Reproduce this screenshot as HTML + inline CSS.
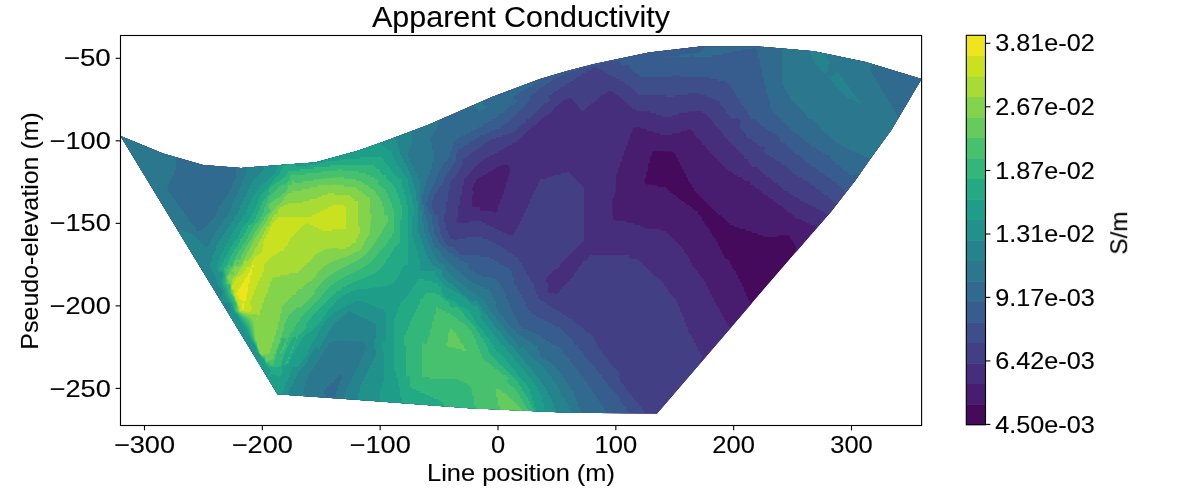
<!DOCTYPE html>
<html><head><meta charset="utf-8"><title>Apparent Conductivity</title>
<style>html,body{margin:0;padding:0;background:#fff;width:1200px;height:500px;overflow:hidden}
text{font-family:"Liberation Sans", sans-serif;fill:#000;stroke:#000;stroke-width:0.12px}</style></head>
<body><svg width="1200" height="500" viewBox="0 0 1200 500" style="display:block"><rect x="0" y="0" width="1200" height="500" fill="#fff"/>
<defs><clipPath id="hull"><polygon points="120.5,136.0 163.0,153.4 203.0,165.0 241.0,168.0 300.0,163.5 315.0,162.5 357.0,151.0 380.0,143.0 404.0,134.0 428.0,125.0 460.0,111.0 492.0,97.0 516.0,88.0 540.0,79.0 567.0,71.0 594.0,64.0 648.8,52.6 700.3,46.4 757.2,46.4 814.1,51.3 865.6,62.1 921.5,78.9 891.3,130.0 872.0,156.4 855.2,180.4 831.2,211.5 800.0,247.5 657.0,413.5 570.0,412.7 470.0,408.3 370.0,400.7 277.5,394.2"/></clipPath></defs>
<g clip-path="url(#hull)"><polygon fill="#460a5d" points="120.5,136.0 163.0,153.4 203.0,165.0 241.0,168.0 300.0,163.5 315.0,162.5 357.0,151.0 380.0,143.0 404.0,134.0 428.0,125.0 460.0,111.0 492.0,97.0 516.0,88.0 540.0,79.0 567.0,71.0 594.0,64.0 648.8,52.6 700.3,46.4 757.2,46.4 814.1,51.3 865.6,62.1 921.5,78.9 891.3,130.0 872.0,156.4 855.2,180.4 831.2,211.5 800.0,247.5 657.0,413.5 570.0,412.7 470.0,408.3 370.0,400.7 277.5,394.2"/>
<path fill-rule="evenodd" fill="#481d6f" d="M119.0 33.0L924.0 33.0L924.0 428.0L118.0 428.0L118.0 33.0L119.0 33.0ZM652.4 152.0L652.1 155.0L650.1 157.0L650.0 163.0L649.0 163.1L648.1 164.0L648.1 171.0L646.3 172.0L646.1 177.0L645.8 178.0L644.4 179.0L645.0 183.5L647.0 184.5L656.0 184.9L658.0 186.9L666.0 187.0L666.1 188.0L667.0 188.9L668.1 189.0L668.1 190.0L669.0 190.9L670.1 191.0L670.1 192.0L671.0 192.9L672.0 192.9L674.0 194.9L676.0 195.0L676.1 196.0L677.0 196.9L678.0 197.0L678.1 198.0L679.0 198.9L680.0 198.9L681.0 200.3L682.0 200.9L684.0 201.0L684.1 202.0L685.0 202.9L686.0 203.0L686.1 204.0L687.0 204.9L690.0 205.0L690.1 206.0L691.0 206.9L692.0 207.0L692.1 208.0L693.0 208.9L694.0 209.0L694.1 210.0L695.0 210.9L698.0 211.0L698.1 214.0L699.0 214.9L700.0 215.0L700.1 216.0L701.0 216.9L702.0 217.0L702.1 220.0L703.0 220.9L704.0 221.0L704.1 223.0L706.1 225.0L706.1 226.0L707.0 226.9L708.0 226.9L708.1 228.0L709.0 228.9L710.0 229.0L710.2 232.0L711.0 232.8L712.0 232.9L712.1 235.0L714.1 237.0L714.2 238.0L716.1 239.0L716.1 241.0L718.1 243.0L718.1 245.0L720.1 247.0L720.1 249.0L722.1 251.0L722.2 253.0L724.1 255.0L724.2 257.0L726.0 258.8L728.0 258.9L729.0 260.8L730.0 260.9L730.2 264.0L732.1 265.0L732.2 268.0L734.0 268.9L734.2 270.0L735.0 270.8L736.0 271.0L736.1 274.0L737.0 274.9L738.0 274.9L738.1 278.0L739.0 278.9L740.0 279.0L740.2 282.0L741.0 282.8L742.0 282.9L742.2 286.0L744.1 287.0L744.1 291.0L746.1 293.0L746.2 296.0L747.0 296.8L748.0 296.9L748.1 300.0L749.0 300.9L750.0 301.0L750.2 303.0L756.0 304.8L761.0 304.5L767.0 302.2L773.2 298.0L780.3 291.0L786.3 283.0L792.0 272.7L795.7 263.0L796.9 255.0L795.8 247.0L794.0 243.2L789.5 237.0L789.0 235.3L779.0 235.2L778.2 236.0L778.0 237.0L764.0 237.0L763.0 235.5L762.0 235.0L758.0 235.0L757.9 234.0L757.0 233.1L752.0 233.0L751.0 231.5L750.0 231.0L746.0 231.0L745.9 230.0L745.0 229.1L740.0 229.0L739.0 227.3L734.0 227.0L734.0 226.0L733.0 225.0L730.0 225.0L730.0 224.0L729.0 223.0L728.0 223.0L728.0 222.0L727.0 221.0L726.0 221.0L726.0 220.0L725.0 219.0L724.0 219.0L723.9 218.0L723.0 217.1L722.0 217.0L721.0 215.3L718.0 215.0L717.9 214.0L717.0 213.1L716.0 213.0L715.9 212.0L715.0 211.1L714.0 211.0L713.9 210.0L713.0 209.1L712.0 209.0L711.9 208.0L711.0 207.1L710.0 207.0L709.9 206.0L709.0 205.1L708.0 205.0L707.9 204.0L707.0 203.1L706.0 203.0L705.9 202.0L705.0 201.1L704.0 201.0L703.9 200.0L703.0 199.1L702.0 199.0L701.9 198.0L701.0 197.1L700.0 197.0L699.9 196.0L699.0 195.1L698.0 195.0L697.9 194.0L697.0 193.1L696.0 193.0L695.9 192.0L695.0 191.1L694.0 191.0L694.0 189.0L693.5 188.0L692.0 187.0L691.9 185.0L690.0 183.0L689.9 182.0L689.0 181.1L688.0 181.0L687.9 178.0L687.0 177.1L686.0 177.0L685.9 174.0L685.0 173.1L684.0 173.0L683.8 170.0L681.9 169.0L681.8 166.0L679.9 165.0L679.8 162.0L677.9 161.0L677.7 158.0L675.9 157.0L675.6 154.0L673.8 153.0L673.0 151.5L656.0 151.1L653.0 151.4L652.4 152.0Z"/>
<path fill-rule="evenodd" fill="#472e7c" d="M119.0 33.0L924.0 33.0L924.0 428.0L118.0 428.0L118.0 33.0L119.0 33.0ZM633.1 128.0L632.4 130.0L632.1 133.0L630.4 134.0L630.1 139.0L628.3 140.0L628.1 145.0L626.2 146.0L626.1 149.0L624.1 151.0L624.1 155.0L622.2 156.0L622.1 161.0L620.2 162.0L620.1 167.0L618.2 168.0L618.1 173.0L616.3 174.0L615.4 193.0L614.0 197.8L612.3 199.0L612.4 214.0L613.2 219.0L616.0 220.4L626.0 220.9L627.0 222.5L628.0 222.8L634.0 222.9L635.0 224.7L640.0 224.9L641.0 226.7L644.0 226.9L645.0 228.7L660.0 228.9L661.0 230.8L666.1 231.0L666.1 232.0L667.0 232.9L668.1 233.0L668.2 234.0L669.0 234.8L670.1 235.0L670.2 236.0L671.0 236.8L672.1 237.0L672.2 238.0L673.0 238.8L674.1 239.0L674.2 240.0L675.0 240.8L676.0 240.9L676.2 242.0L677.0 242.8L678.0 242.9L678.2 244.0L679.0 244.8L680.0 244.9L680.2 246.0L681.0 246.8L682.0 246.9L682.1 248.0L683.0 248.9L684.1 249.0L684.2 252.0L685.0 252.8L686.0 252.9L686.2 254.0L687.0 254.8L688.1 255.0L688.2 258.0L690.1 259.0L690.2 262.0L692.1 263.0L692.2 266.0L694.0 266.9L695.0 268.8L696.0 268.9L696.2 270.0L697.0 270.8L698.0 270.9L698.1 273.0L700.1 275.0L700.2 276.0L701.0 276.8L702.0 276.9L702.1 278.0L703.0 278.9L704.0 279.0L704.1 281.0L706.0 283.0L706.1 285.0L708.0 287.0L708.1 289.0L710.0 291.0L710.1 293.0L712.0 295.0L712.1 297.0L714.0 299.0L714.1 301.0L716.1 303.0L716.1 305.0L718.1 307.0L718.2 308.0L719.0 308.8L720.1 309.0L720.2 312.0L721.0 312.8L722.0 312.9L722.2 316.0L724.1 317.0L724.3 320.0L726.1 321.0L726.2 323.0L728.2 325.0L729.0 326.7L732.0 326.9L733.0 328.8L734.1 329.0L734.3 331.0L746.0 337.5L754.0 341.0L764.0 343.8L772.0 344.8L782.0 344.3L790.0 342.5L797.0 339.4L804.0 334.8L811.6 327.0L817.6 317.0L821.6 306.0L824.0 293.0L824.5 281.0L823.4 267.0L821.2 255.0L816.2 235.0L815.4 226.0L814.0 225.3L810.0 225.1L809.0 223.2L805.9 223.0L805.8 222.0L805.0 221.2L801.9 221.0L801.8 220.0L801.0 219.2L796.0 219.0L795.9 218.0L795.0 217.1L793.9 217.0L793.9 216.0L793.0 215.1L791.9 215.0L791.8 214.0L791.0 213.2L787.9 213.0L787.9 212.0L787.0 211.1L785.9 211.0L785.8 210.0L785.0 209.2L783.9 209.0L783.8 208.0L783.0 207.2L781.9 207.0L781.8 206.0L781.0 205.2L777.9 205.0L777.8 204.0L777.0 203.2L775.9 203.0L775.8 202.0L773.9 201.0L773.0 199.2L770.0 199.1L769.8 198.0L767.9 197.0L767.0 195.2L764.0 195.1L763.8 194.0L763.0 193.2L761.9 193.0L761.8 192.0L761.0 191.2L759.9 191.0L759.8 190.0L759.0 189.2L756.0 189.1L755.9 188.0L755.0 187.1L754.0 187.1L753.9 186.0L753.0 185.1L750.0 185.0L749.9 182.0L749.0 181.1L744.0 181.0L743.9 180.0L743.0 179.1L741.9 179.0L741.9 178.0L741.0 177.1L738.0 177.0L737.0 175.2L733.9 175.0L733.8 174.0L733.0 173.2L731.9 173.0L731.8 172.0L731.0 171.2L727.9 171.0L727.8 170.0L727.0 169.2L725.9 169.0L725.8 168.0L725.0 167.2L723.9 167.0L723.8 166.0L723.0 165.2L722.0 165.1L721.8 164.0L721.0 163.2L720.0 163.1L719.8 162.0L719.0 161.2L717.9 161.0L717.9 160.0L717.0 159.1L716.0 159.1L715.9 158.0L715.0 157.1L714.0 157.1L713.9 156.0L713.0 155.1L712.0 155.0L711.9 154.0L711.0 153.1L710.0 153.0L710.0 152.0L709.0 151.0L708.0 151.0L708.0 150.0L707.0 149.0L706.0 149.0L705.9 147.0L705.0 146.1L704.0 145.1L702.0 145.0L701.8 142.0L701.0 141.2L700.0 141.1L699.8 140.0L699.0 139.2L697.9 139.0L697.8 138.0L695.9 137.0L695.8 136.0L695.0 135.2L693.9 135.0L693.6 132.0L691.7 131.0L691.0 129.6L688.0 129.3L687.0 130.8L686.0 131.1L681.0 131.2L680.0 133.0L673.0 133.1L672.1 134.0L672.0 135.0L660.0 135.0L659.9 134.0L659.0 133.1L654.0 133.0L653.0 131.2L648.0 131.1L647.0 130.6L646.0 129.1L641.0 128.8L640.0 127.3L635.0 127.4L633.1 128.0ZM501.9 165.0L498.9 167.0L496.0 167.5L495.0 168.9L493.0 169.6L492.3 171.0L489.0 171.4L488.2 173.0L486.3 174.0L486.1 175.0L483.0 175.2L482.2 176.0L482.1 177.0L480.0 177.1L479.0 178.5L477.0 179.1L476.1 180.0L476.0 183.0L474.0 183.1L473.4 187.0L472.0 189.0L472.1 190.0L473.0 190.9L474.0 191.0L474.0 195.0L473.0 195.1L472.1 196.0L472.1 197.0L472.2 206.0L473.0 206.8L480.0 207.0L480.1 210.0L481.0 210.9L492.0 210.9L493.0 212.3L494.0 212.7L497.0 212.0L497.7 210.0L497.9 205.0L499.8 204.0L500.0 199.0L501.0 198.9L501.9 198.0L502.0 194.9L503.0 194.8L503.8 194.0L503.9 189.0L505.7 188.0L505.9 183.0L507.4 182.0L507.7 177.0L509.2 175.0L509.9 171.0L509.7 168.0L508.0 165.3L506.0 164.5L501.9 165.0Z"/>
<path fill-rule="evenodd" fill="#423f85" d="M119.0 33.0L924.0 33.0L924.0 296.2L912.0 294.4L902.0 291.1L892.0 286.0L880.0 277.5L868.0 266.3L857.0 254.0L846.0 240.1L828.0 215.1L826.0 215.0L825.9 214.0L825.0 213.1L824.0 213.0L823.9 212.0L823.0 211.1L820.0 211.0L819.9 210.0L819.0 209.1L816.0 209.0L815.9 208.0L815.0 207.1L812.0 207.0L811.9 206.0L811.0 205.1L808.0 205.0L807.9 204.0L807.0 203.1L804.0 203.0L803.9 202.0L803.0 201.1L800.0 201.0L799.9 200.0L799.0 199.1L798.0 199.0L797.9 198.0L797.0 197.1L794.0 197.0L793.9 196.0L793.0 195.1L790.0 195.0L789.9 194.0L789.0 193.1L788.0 193.0L787.9 192.0L787.0 191.1L784.0 191.0L783.9 190.0L783.0 189.1L782.0 189.0L781.9 188.0L781.0 187.1L780.0 187.0L779.9 186.0L779.0 185.1L778.0 185.0L777.9 184.0L777.0 183.1L774.0 183.0L773.9 182.0L773.0 181.1L772.0 181.0L771.9 180.0L771.0 179.1L770.0 179.0L769.9 178.0L769.0 177.1L766.0 177.0L766.0 176.0L765.0 175.0L764.0 175.0L764.0 174.0L763.0 173.0L762.0 173.0L762.0 172.0L761.0 171.0L760.0 171.0L760.0 170.0L759.0 169.0L758.0 169.0L757.9 168.0L757.0 167.1L752.0 167.0L752.0 166.0L751.0 165.0L750.0 165.0L749.9 164.0L749.0 163.1L748.0 163.0L747.9 160.0L747.0 159.1L744.0 159.0L743.9 156.0L743.0 155.1L742.0 155.1L741.9 154.0L741.0 153.1L739.9 153.0L739.9 152.0L739.0 151.1L737.9 151.0L737.9 150.0L737.0 149.1L735.9 149.0L735.9 148.0L735.0 147.1L733.9 147.0L733.9 146.0L733.0 145.1L731.9 145.0L731.9 144.0L731.0 143.1L730.0 143.1L729.9 142.0L729.0 141.1L728.0 141.1L727.9 140.0L727.0 139.1L726.0 139.1L725.9 138.0L725.0 137.1L724.0 137.1L723.9 135.0L721.9 133.0L721.9 132.0L721.0 131.1L720.0 131.1L719.9 130.0L719.0 129.1L718.0 129.1L717.9 128.0L717.0 127.1L716.0 127.1L715.9 126.0L715.0 125.1L714.0 125.1L713.9 123.0L711.9 121.0L711.9 120.0L711.0 119.1L709.9 119.0L709.9 118.0L709.0 117.1L707.9 117.0L707.8 116.0L707.0 115.2L705.9 115.0L705.8 114.0L705.0 113.2L702.0 113.1L701.0 111.2L689.0 111.2L688.0 113.0L679.0 113.1L678.1 114.0L678.0 115.0L673.0 115.1L672.1 116.0L672.0 117.0L662.0 117.0L661.9 116.0L661.0 115.1L656.0 115.0L655.9 114.0L655.0 113.1L650.0 113.0L649.9 112.0L649.0 111.1L636.0 111.0L635.9 110.0L635.0 109.1L631.9 109.0L631.9 108.0L631.0 107.1L629.9 107.0L629.8 106.0L629.0 105.2L627.9 105.0L627.0 103.2L625.9 103.0L625.0 101.3L623.8 101.0L623.0 99.3L621.0 98.7L618.0 95.3L615.7 95.0L615.4 94.0L613.5 93.0L613.0 92.0L610.0 90.6L607.0 92.0L606.5 93.0L604.6 94.0L604.0 95.2L601.0 95.5L600.3 97.0L598.4 98.0L598.2 99.0L596.3 100.0L596.1 101.0L594.2 102.0L594.1 103.0L591.0 103.2L590.1 105.0L589.0 105.2L588.2 106.0L588.1 107.0L587.0 107.2L586.2 108.0L586.1 109.0L585.0 109.1L584.1 110.0L584.0 111.0L581.9 111.0L581.6 110.0L579.8 109.0L579.0 107.4L577.7 107.0L577.5 105.0L573.2 101.0L572.0 98.9L570.0 98.0L564.0 100.0L555.0 107.8L552.4 111.0L550.7 112.0L550.3 113.0L548.6 114.0L548.3 115.0L545.0 115.7L544.4 117.0L542.6 118.0L542.3 119.0L540.5 120.0L540.3 121.0L538.4 122.0L538.2 123.0L536.4 124.0L536.2 125.0L533.0 125.4L532.2 127.0L530.3 128.0L530.2 129.0L528.3 130.0L528.1 131.0L526.2 132.0L526.1 133.0L524.2 134.0L524.1 135.0L522.2 136.0L522.1 137.0L521.0 137.2L520.2 138.0L520.1 139.0L519.0 139.1L518.1 140.0L518.1 141.0L517.0 141.1L516.1 142.0L516.1 143.0L513.0 143.1L512.1 144.0L512.0 145.0L509.0 145.1L508.1 146.0L508.0 147.0L506.0 147.0L504.0 149.0L502.0 149.0L500.0 151.0L499.0 151.1L498.1 152.0L498.0 153.0L495.0 153.1L494.1 154.0L494.0 155.0L491.0 155.1L490.1 156.0L490.0 157.0L487.0 157.1L486.1 158.0L486.0 159.0L484.0 159.0L474.0 168.3L466.0 177.7L464.0 179.0L464.0 185.0L463.0 185.1L462.1 186.0L462.0 195.0L461.0 195.1L460.1 196.0L460.0 205.0L459.0 205.1L458.1 206.0L458.1 217.0L456.7 218.0L456.5 221.0L457.0 222.0L459.0 222.7L466.0 222.9L469.0 222.8L470.0 221.0L482.0 221.0L482.1 222.0L483.0 222.9L486.0 223.0L486.1 224.0L487.0 224.9L490.0 225.0L490.1 226.0L491.0 226.9L494.0 227.0L494.1 228.0L495.0 228.9L498.0 229.0L499.0 230.8L502.0 230.9L503.0 232.7L506.0 232.9L507.0 234.5L511.1 235.0L512.0 235.9L513.6 234.0L513.7 233.0L515.6 232.0L515.9 229.0L517.8 228.0L517.9 225.0L519.0 224.9L519.9 224.0L520.0 221.0L521.0 220.9L521.9 220.0L522.0 217.0L523.0 217.0L524.0 216.0L524.0 213.0L525.0 212.9L525.9 212.0L526.0 209.0L527.5 208.0L528.0 205.0L529.9 203.0L530.0 199.0L531.0 198.8L531.8 198.0L532.0 195.0L533.8 194.0L533.9 191.0L535.8 190.0L535.9 187.0L537.8 186.0L537.9 183.0L539.6 182.0L540.0 179.0L546.0 178.9L548.0 176.9L553.0 176.6L554.0 174.9L560.0 174.8L562.0 172.9L567.0 172.6L568.1 171.0L568.2 172.0L570.1 173.0L570.3 174.0L572.0 174.9L573.0 176.7L574.0 176.9L575.0 178.7L576.1 179.0L576.2 180.0L578.0 180.9L578.2 182.0L579.0 182.8L580.0 182.9L580.2 184.0L581.0 184.8L582.0 184.9L582.1 186.0L583.0 186.9L584.0 187.0L584.0 241.0L583.0 241.1L582.1 242.0L582.0 243.0L581.0 243.1L580.1 244.0L580.0 245.0L579.0 245.1L578.1 246.0L578.0 247.0L577.0 247.1L576.1 248.0L576.0 249.0L575.0 249.1L574.1 250.0L574.0 251.0L573.0 251.1L572.1 252.0L572.0 253.0L571.0 253.1L570.1 254.0L570.0 255.0L569.0 255.1L568.1 256.0L568.0 257.0L567.0 257.1L566.1 258.0L566.0 259.0L565.0 259.1L564.1 260.0L564.0 261.0L563.0 261.1L562.1 262.0L562.0 263.0L561.0 263.1L560.1 264.0L560.0 267.0L559.0 267.1L558.1 268.0L558.0 269.0L555.0 269.1L554.1 270.0L554.0 271.0L553.0 271.1L552.1 272.0L552.0 273.0L551.0 273.1L550.1 274.0L550.0 275.0L549.0 275.1L548.1 276.0L548.0 277.0L547.0 277.1L546.1 278.0L546.1 282.0L547.0 282.9L548.0 283.0L548.0 286.0L549.0 287.0L550.0 287.0L548.0 287.1L547.7 291.0L550.0 293.3L551.9 293.0L552.0 291.0L552.1 292.0L553.0 292.9L554.2 293.0L554.4 294.0L556.0 294.8L557.0 293.3L559.0 292.8L559.8 292.0L560.0 289.0L561.0 288.9L561.9 288.0L562.0 287.0L563.0 286.9L563.9 286.0L564.0 285.0L565.0 284.9L565.9 284.0L566.0 283.0L567.0 282.9L567.9 282.0L568.0 281.0L569.0 280.9L569.9 280.0L570.0 279.0L571.0 278.9L571.9 278.0L572.0 276.9L573.0 276.9L573.9 276.0L574.0 273.0L575.0 272.9L575.9 272.0L576.0 271.0L577.0 270.9L577.9 270.0L578.0 267.0L579.0 266.9L579.9 266.0L580.0 265.0L581.0 264.9L581.9 264.0L582.0 261.0L583.0 260.9L583.9 260.0L584.0 259.0L585.0 260.7L586.0 260.8L587.8 259.0L588.0 257.0L589.0 256.9L589.9 256.0L590.0 255.0L630.0 255.0L628.5 257.0L629.0 258.0L631.0 258.8L638.1 259.0L638.1 260.0L639.0 260.9L640.1 261.0L640.2 262.0L641.0 262.8L642.1 263.0L642.2 264.0L643.0 264.8L644.1 265.0L644.2 266.0L645.0 266.8L646.1 267.0L646.2 268.0L648.1 269.0L648.2 270.0L650.1 271.0L650.2 272.0L651.0 272.8L652.0 272.9L655.0 276.4L658.0 276.9L658.2 278.0L659.0 278.8L660.1 279.0L660.2 280.0L661.0 280.8L662.0 280.9L662.2 282.0L663.0 282.8L664.0 282.9L664.2 286.0L665.0 286.8L666.0 286.9L666.2 288.0L667.0 288.8L668.1 289.0L668.6 292.0L670.0 292.9L671.0 294.8L672.0 294.9L672.2 296.0L673.0 296.8L674.0 296.9L674.2 298.0L675.0 298.8L676.1 299.0L676.2 302.0L677.0 302.8L678.0 302.9L678.2 306.0L680.1 307.0L680.1 311.0L680.6 312.0L682.1 313.0L682.2 316.0L684.0 317.0L684.1 321.0L684.5 322.0L686.0 323.0L686.1 326.0L687.0 326.9L688.0 327.0L688.0 332.0L689.0 333.0L690.0 333.0L690.0 334.0L691.0 335.0L692.0 335.0L692.0 338.0L693.0 339.0L694.0 339.0L694.0 342.0L695.0 343.0L696.0 343.0L696.1 346.0L697.0 346.9L698.0 347.0L698.1 350.0L699.0 350.9L700.0 350.9L700.1 354.0L701.0 354.9L702.1 355.0L702.0 358.2L700.2 361.0L699.8 363.0L700.0 371.0L701.7 379.0L709.8 409.0L711.5 419.0L712.3 428.0L118.0 428.0L118.0 33.0L119.0 33.0ZM703.0 359.0L704.0 359.0L703.0 359.0Z"/>
<path fill-rule="evenodd" fill="#3d4e8a" d="M119.0 33.0L924.0 33.0L924.0 239.2L914.0 238.5L904.0 236.7L894.0 234.0L884.0 230.4L866.0 221.8L852.0 213.5L836.0 203.0L834.0 203.0L833.9 202.0L833.0 201.1L832.0 201.0L831.9 200.0L831.0 199.1L830.0 199.0L829.9 198.0L829.0 197.1L827.9 197.0L827.9 196.0L827.0 195.1L824.0 195.0L823.9 194.0L823.0 193.1L822.0 193.0L821.9 192.0L821.0 191.1L819.9 191.0L819.9 190.0L819.0 189.1L816.0 189.0L815.9 188.0L815.0 187.1L813.9 187.0L813.9 186.0L813.0 185.1L810.0 185.0L809.9 184.0L809.0 183.1L807.9 183.0L807.9 182.0L807.0 181.1L804.0 181.0L803.9 180.0L803.0 179.1L802.0 179.0L801.9 178.0L801.0 177.1L798.0 177.0L797.9 176.0L797.0 175.1L794.0 175.0L794.0 174.0L793.0 173.0L792.0 173.0L792.0 172.0L791.0 171.0L790.0 171.0L790.0 170.0L789.0 169.0L788.0 169.0L787.9 168.0L787.0 167.1L786.0 167.0L785.9 166.0L785.0 165.1L782.0 165.0L781.9 164.0L781.0 163.1L780.0 163.0L779.9 162.0L779.0 161.1L776.0 161.0L775.9 160.0L775.0 159.1L774.0 159.0L773.9 158.0L773.0 157.1L770.0 157.0L769.9 156.0L769.0 155.1L766.0 155.0L765.9 154.0L765.0 153.1L764.0 153.0L763.9 152.0L763.0 151.1L760.0 151.0L763.0 150.5L765.0 149.5L765.5 149.0L765.0 148.0L762.0 145.8L761.1 147.0L760.0 147.1L759.9 146.0L759.0 145.1L757.9 145.0L757.9 144.0L757.0 143.1L754.0 143.0L753.9 142.0L753.0 141.1L752.0 141.0L751.9 140.0L751.0 139.1L748.0 139.0L747.9 138.0L747.0 137.1L746.0 137.0L745.9 134.0L745.0 133.1L744.0 133.0L743.9 132.0L743.0 131.1L742.0 131.0L741.9 130.0L741.0 129.1L740.0 129.0L739.9 128.0L739.0 127.1L738.0 127.0L740.0 126.6L740.5 121.0L739.9 120.0L738.0 118.3L732.0 119.0L731.9 118.0L731.0 117.1L730.0 117.0L729.9 116.0L729.0 115.1L728.0 115.0L727.9 114.0L727.0 113.1L726.0 113.0L725.9 110.0L725.0 109.1L724.0 109.1L723.9 108.0L723.0 107.1L722.0 107.0L721.9 106.0L721.0 105.1L720.0 105.0L719.8 102.0L719.0 101.2L716.0 101.0L715.9 100.0L715.0 99.1L712.0 99.0L710.0 97.1L706.0 97.0L705.9 96.0L705.0 95.1L700.0 95.0L699.9 94.0L699.0 93.1L689.0 93.1L688.1 94.0L688.0 95.0L676.0 95.1L674.0 97.0L666.0 97.0L665.9 96.0L665.0 95.1L664.0 95.1L638.0 95.0L637.9 94.0L637.0 93.1L636.0 93.0L635.9 92.0L635.0 91.1L634.0 91.0L633.9 90.0L633.0 89.1L632.0 89.0L628.0 85.0L626.0 85.0L625.9 84.0L625.0 83.1L624.0 83.0L623.9 82.0L623.0 81.1L620.0 81.0L619.9 80.0L619.0 79.1L616.0 79.0L615.9 78.0L615.0 77.1L612.0 77.0L611.9 76.0L611.0 75.1L607.9 75.0L607.9 74.0L607.0 73.1L605.0 72.5L604.0 71.1L601.9 71.0L601.0 69.2L598.0 69.1L597.0 67.5L594.0 67.2L593.0 67.5L592.2 69.0L591.0 69.2L590.0 71.1L587.0 71.2L586.0 73.1L583.0 73.2L582.2 74.0L582.1 75.0L581.0 75.1L580.1 76.0L580.0 77.0L577.0 77.1L576.1 78.0L576.1 79.0L575.0 79.1L574.1 80.0L574.0 81.0L571.0 81.1L570.1 82.0L570.0 83.0L567.0 83.1L566.1 84.0L566.0 85.0L565.0 85.1L564.1 86.0L564.0 87.0L561.0 87.1L560.1 88.0L560.0 89.0L559.0 89.1L558.1 90.0L558.0 91.0L555.0 91.1L554.1 92.0L554.0 93.0L553.0 93.1L552.1 94.0L552.0 95.0L549.0 95.3L548.3 96.0L548.3 98.0L550.0 98.9L550.0 101.0L549.0 101.0L548.0 102.0L548.0 103.0L545.0 103.0L544.0 104.0L544.0 105.0L543.0 105.0L542.0 106.0L542.0 107.0L541.0 107.0L540.0 108.0L540.0 109.0L539.0 109.0L538.0 110.0L538.0 111.0L537.0 111.0L536.0 112.0L536.0 113.0L535.0 113.0L534.0 114.0L534.0 115.0L533.0 115.0L532.0 116.0L532.0 117.0L531.0 117.0L530.0 118.0L530.0 119.0L527.0 119.1L526.1 120.0L526.0 123.0L523.0 123.0L522.0 124.0L522.0 125.0L521.0 125.0L520.0 126.0L520.0 127.0L519.0 127.0L518.0 128.0L518.0 129.0L517.0 129.0L516.0 130.0L516.0 131.0L515.0 131.0L514.0 132.0L514.0 133.0L509.0 133.1L508.1 134.0L508.0 135.0L503.0 135.1L502.1 136.0L502.0 137.0L497.0 137.1L496.1 138.0L496.0 139.0L491.0 139.1L490.1 140.0L490.0 141.0L488.0 141.0L487.0 142.4L485.0 143.1L484.1 144.0L484.0 145.0L483.0 145.1L482.1 146.0L482.0 147.0L480.0 147.0L478.0 149.0L477.0 149.1L476.1 150.0L476.0 151.0L474.0 151.0L472.0 153.0L471.0 153.1L470.1 154.0L470.0 155.0L469.0 155.1L468.1 156.0L468.0 157.0L466.0 157.1L465.0 158.4L462.1 160.0L462.8 163.0L460.4 169.0L455.0 177.0L454.0 178.1L452.1 179.0L452.0 181.0L451.0 181.1L450.1 182.0L450.0 191.0L449.0 191.1L448.1 192.0L448.0 201.0L447.0 201.1L446.1 202.0L446.0 213.0L444.0 215.0L444.1 222.0L445.0 222.9L446.0 223.0L446.1 230.0L447.0 230.9L448.0 231.0L448.1 234.0L449.0 234.9L450.1 235.0L450.2 238.0L451.0 238.8L454.2 239.0L454.4 240.0L456.0 240.8L457.0 240.6L458.0 239.0L465.0 238.9L465.9 238.0L466.0 237.0L479.0 236.9L479.9 236.0L480.0 235.0L480.1 236.0L481.0 236.9L482.0 237.0L482.1 238.0L483.0 238.9L488.0 239.0L488.1 240.0L489.0 240.9L492.0 241.0L492.1 242.0L493.0 242.9L496.0 243.0L496.1 244.0L497.0 244.9L500.0 245.0L500.1 246.0L501.0 246.9L502.0 247.0L504.0 249.0L506.0 249.0L506.1 250.0L507.0 250.9L508.1 251.0L508.1 252.0L509.0 252.9L512.0 253.0L512.1 254.0L513.0 254.9L514.1 255.0L514.1 256.0L515.0 256.9L518.0 257.0L518.2 260.0L519.0 260.8L520.0 260.9L520.1 262.0L521.0 262.9L522.1 263.0L522.2 266.0L524.1 267.0L524.2 270.0L526.1 271.0L526.2 274.0L527.0 274.8L528.0 274.9L528.1 276.0L529.0 276.9L530.0 276.9L530.1 280.0L531.0 280.9L532.0 280.9L532.1 282.0L533.0 282.9L534.0 283.0L534.1 288.0L535.0 288.9L536.0 289.0L536.1 294.0L537.0 294.9L538.0 295.0L538.1 298.0L539.0 298.9L540.0 299.0L540.1 300.0L541.0 300.9L544.0 301.0L544.1 302.0L545.0 302.9L546.0 303.0L546.1 304.0L547.0 304.9L550.0 305.0L550.1 306.0L551.0 306.9L552.0 307.0L554.0 308.9L556.1 309.0L556.1 310.0L557.0 310.9L560.1 311.0L560.1 312.0L561.0 312.9L562.1 313.0L562.2 314.0L563.0 314.8L566.1 315.0L566.2 316.0L567.0 316.8L568.1 317.0L569.0 318.8L572.1 319.0L572.2 320.0L574.1 321.0L575.0 322.7L577.0 323.4L578.0 324.8L580.1 325.0L580.3 326.0L582.2 327.0L582.3 328.0L584.2 329.0L584.3 330.0L586.2 331.0L587.0 332.6L590.0 332.9L590.3 334.0L592.1 335.0L593.0 336.7L594.0 336.9L594.4 340.0L596.1 341.0L596.4 344.0L598.1 345.0L598.5 348.0L600.0 348.7L601.0 350.6L602.1 351.0L602.5 354.0L604.0 354.7L605.0 356.6L606.0 356.8L607.0 358.6L608.1 359.0L608.5 362.0L610.0 362.7L611.0 364.6L612.0 364.8L613.0 366.6L614.0 366.8L615.0 368.6L616.0 368.8L617.0 370.7L618.0 370.8L619.0 372.7L620.1 373.0L620.0 375.5L619.0 376.0L618.5 377.0L619.0 378.0L620.0 378.5L620.5 382.0L622.0 382.7L623.0 384.6L624.0 384.8L625.0 386.7L626.0 386.8L626.4 390.0L628.0 390.8L629.0 392.7L630.0 392.8L631.0 394.7L632.0 394.9L632.2 397.0L633.7 398.0L634.3 400.0L636.0 400.8L637.0 402.7L638.0 402.8L639.0 404.7L640.0 404.9L641.0 406.7L642.0 406.9L642.2 409.0L643.6 410.0L644.3 412.0L647.0 413.7L649.0 416.0L651.4 421.0L652.9 428.0L118.0 428.0L118.0 33.0L119.0 33.0Z"/>
<path fill-rule="evenodd" fill="#365d8d" d="M119.0 33.0L924.0 33.0L924.0 203.5L906.0 202.8L890.0 201.2L872.0 198.0L848.0 192.1L847.0 192.2L846.0 193.0L845.9 192.0L845.0 191.1L844.0 191.0L843.9 190.0L843.0 189.1L842.0 189.0L841.9 188.0L841.0 187.1L840.0 187.0L839.9 186.0L839.0 185.1L838.0 185.0L837.9 184.0L837.0 183.1L835.9 183.0L835.9 182.0L835.0 181.1L832.0 181.0L831.9 180.0L831.0 179.1L830.0 179.0L829.9 178.0L829.0 177.1L826.0 177.0L825.9 176.0L825.0 175.1L824.0 175.0L823.9 174.0L823.0 173.1L820.0 173.0L819.9 172.0L819.0 171.1L818.0 171.0L817.9 170.0L817.0 169.1L816.0 169.0L815.9 168.0L815.0 167.1L812.0 167.0L811.9 166.0L811.0 165.1L810.0 165.0L809.9 164.0L809.0 163.1L806.0 163.0L805.9 162.0L805.0 161.1L804.0 161.0L803.9 160.0L803.0 159.1L802.0 159.0L801.9 158.0L801.0 157.1L800.0 157.0L799.9 156.0L799.0 155.1L796.0 155.0L795.9 154.0L795.0 153.1L794.0 153.0L793.9 152.0L793.0 151.1L792.0 151.0L791.9 150.0L791.0 149.1L790.0 149.0L789.9 148.0L789.0 147.1L788.0 147.0L787.9 146.0L787.0 145.1L786.0 145.0L785.9 144.0L785.0 143.1L782.0 143.0L781.9 142.0L781.0 141.1L780.0 141.0L779.9 138.0L779.0 137.1L778.0 137.0L777.9 136.0L777.0 135.1L776.0 135.0L774.0 133.0L772.0 133.0L771.9 132.0L771.0 131.1L768.0 131.0L767.9 130.0L767.0 129.1L766.0 129.0L765.9 128.0L765.0 127.1L762.0 127.0L761.9 126.0L761.0 125.1L760.0 125.0L759.9 124.0L759.0 123.1L758.0 123.0L757.9 122.0L757.0 121.1L756.0 121.0L755.9 120.0L755.0 119.1L750.0 119.0L749.9 116.0L749.0 115.1L748.0 115.0L747.9 112.0L747.0 111.1L746.0 111.0L745.9 110.0L745.0 109.1L744.0 109.0L743.9 106.0L743.0 105.1L742.0 105.0L741.9 104.0L741.0 103.1L740.0 103.0L739.9 100.0L739.0 99.1L738.0 99.1L737.9 98.0L737.0 97.1L736.0 97.0L735.9 94.0L735.0 93.1L734.0 93.1L733.9 91.0L731.9 89.0L731.9 88.0L731.0 87.1L729.9 87.0L729.9 85.0L728.0 83.1L725.9 83.0L725.8 82.0L725.0 81.2L718.0 81.0L717.9 80.0L717.0 79.1L710.0 79.0L708.0 77.1L680.0 77.0L679.9 76.0L679.0 75.1L678.0 75.1L673.0 75.1L672.1 76.0L672.0 77.0L640.0 77.0L639.9 76.0L639.0 75.1L638.0 75.0L637.9 74.0L637.0 73.1L634.0 73.0L633.9 72.0L633.0 71.1L632.0 71.0L632.0 70.0L631.0 69.0L630.0 69.0L630.1 67.0L629.0 65.6L628.0 65.1L622.0 65.0L621.9 64.0L621.0 63.1L619.9 63.0L618.0 61.1L610.0 61.0L609.0 61.3L608.0 63.0L601.0 63.0L600.0 64.0L600.0 65.0L591.0 65.0L590.0 66.0L590.0 67.0L583.0 67.0L582.0 68.0L582.0 69.0L577.0 69.0L576.0 70.0L576.0 71.0L571.0 71.0L570.0 72.0L570.0 73.0L565.0 73.0L564.0 74.0L564.0 75.0L561.0 75.0L560.0 76.0L560.0 77.0L557.0 77.1L556.1 78.0L556.0 79.0L553.0 79.1L552.1 80.0L552.0 81.0L551.0 81.0L550.0 82.0L550.0 83.0L547.0 83.1L546.1 84.0L546.0 85.0L545.0 85.1L544.1 86.0L544.0 87.0L541.0 87.1L540.1 88.0L540.0 89.0L539.0 89.1L538.1 90.0L538.0 91.0L537.0 91.0L536.0 92.0L536.0 93.0L533.0 93.1L532.1 94.0L532.0 95.0L531.0 95.1L530.1 96.0L530.0 101.0L529.0 101.0L528.0 102.0L528.0 103.0L527.0 103.0L526.0 104.0L526.0 105.0L525.0 105.0L524.0 106.0L524.0 107.0L523.0 107.0L522.0 108.0L522.0 109.0L521.0 109.0L520.0 110.0L520.0 111.0L519.0 111.0L518.0 112.0L518.0 113.0L517.0 113.0L516.0 114.0L516.0 115.0L515.0 115.0L514.0 116.0L514.0 117.0L513.0 117.0L512.0 118.0L512.0 119.0L511.0 119.0L510.0 120.0L510.0 121.0L509.0 121.0L508.0 122.0L508.0 123.0L506.0 123.0L504.0 125.0L503.0 125.0L502.0 126.0L502.0 127.0L501.0 127.0L500.0 128.0L500.0 129.0L496.0 129.0L494.0 131.0L491.0 131.0L490.0 132.0L490.0 133.0L487.0 133.0L486.0 134.0L486.0 135.0L481.0 135.1L480.1 136.0L480.0 137.0L478.0 137.0L476.0 139.0L475.0 139.0L474.0 140.0L474.0 141.0L471.0 141.1L470.1 142.0L470.0 143.0L469.0 143.0L468.0 144.0L468.0 145.0L465.0 145.1L464.1 146.0L464.0 147.0L463.0 147.1L462.1 148.0L462.0 149.0L459.0 149.1L458.1 150.0L458.0 153.0L457.0 153.1L456.1 154.0L456.0 161.0L444.0 179.0L444.0 183.0L443.0 183.0L442.0 184.0L442.0 185.0L441.0 185.1L440.1 186.0L440.0 187.0L438.0 189.0L438.0 191.0L437.0 191.1L436.1 192.0L436.0 193.1L435.0 193.1L434.1 194.0L434.0 199.0L433.6 200.0L432.1 201.0L432.1 209.0L433.7 210.0L434.1 214.0L435.0 214.9L438.0 215.0L438.0 226.0L439.0 227.0L440.0 227.0L440.0 233.0L442.0 235.0L442.0 238.0L443.0 239.0L444.0 239.0L444.0 242.0L445.0 243.0L446.0 243.0L446.0 244.0L447.0 245.0L448.0 245.0L448.1 246.0L449.0 246.9L451.0 246.9L451.9 246.0L452.0 245.0L452.0 246.0L453.0 247.0L454.0 247.0L454.0 248.0L455.0 249.0L456.0 249.0L456.1 250.0L457.0 250.9L458.0 251.0L458.1 252.0L459.0 252.9L460.0 253.0L460.1 254.0L461.0 254.9L480.0 255.0L480.1 256.0L481.0 256.9L490.0 257.0L490.1 258.0L491.0 258.9L494.0 259.0L494.1 260.0L495.0 260.9L498.0 261.0L498.1 262.0L499.0 262.9L500.0 263.0L500.1 264.0L501.0 264.9L504.0 265.0L504.1 266.0L505.0 266.9L508.0 267.0L508.1 268.0L509.0 268.9L510.0 269.0L510.1 270.0L511.0 270.9L512.0 271.0L512.1 276.0L513.0 276.9L514.0 277.0L514.1 284.0L515.0 284.9L516.0 284.9L516.1 286.0L517.0 286.9L518.0 287.0L518.1 290.0L519.0 290.9L520.0 291.0L520.1 294.0L521.0 294.9L522.0 295.0L522.0 297.0L524.0 299.0L524.0 301.0L526.0 303.0L526.1 306.0L527.0 306.9L528.0 307.0L528.1 310.0L529.0 310.9L530.0 310.9L530.1 312.0L531.0 312.9L532.1 313.0L532.1 314.0L533.0 314.9L536.0 315.0L536.1 316.0L537.0 316.9L540.0 317.0L540.1 318.0L541.0 318.9L544.0 319.0L544.1 320.0L545.0 320.9L548.0 321.0L548.1 322.0L549.0 322.9L552.0 323.0L552.1 324.0L553.0 324.9L554.0 325.0L556.0 327.0L560.0 327.0L560.1 328.0L561.0 328.9L562.0 329.0L562.1 330.0L563.0 330.9L564.0 331.0L564.1 332.0L565.0 332.9L566.0 333.0L566.1 334.0L567.0 334.9L568.0 335.0L568.1 336.0L569.0 336.9L570.0 337.0L570.1 338.0L571.0 338.9L572.0 339.0L572.1 340.0L573.0 340.9L574.0 341.0L574.1 344.0L575.0 344.9L578.0 345.0L578.1 348.0L579.0 348.9L580.0 349.0L580.1 350.0L581.0 350.9L582.0 351.0L582.1 352.0L583.0 352.9L584.0 353.0L584.1 356.0L585.0 356.9L586.0 357.0L586.1 358.0L587.0 358.9L588.0 359.0L588.1 360.0L589.0 360.9L590.0 361.0L590.1 362.0L591.0 362.9L592.0 363.0L592.1 364.0L593.0 364.9L594.0 365.0L594.1 366.0L595.0 366.9L596.0 367.0L596.1 370.0L597.0 370.9L598.0 371.0L598.1 372.0L599.0 372.9L600.0 373.0L600.1 374.0L601.0 374.9L602.0 375.0L602.1 378.0L603.0 378.9L604.0 379.0L604.1 380.0L605.0 380.9L606.0 381.0L606.1 382.0L607.0 382.9L608.0 383.0L608.1 386.0L609.0 386.9L610.0 387.0L610.1 388.0L611.0 388.9L612.0 389.0L612.1 390.0L613.0 390.9L614.0 391.0L614.1 392.0L615.0 392.9L616.0 393.0L616.1 394.0L617.0 394.9L618.0 395.0L618.0 396.0L619.0 397.0L620.0 397.0L620.0 401.0L622.0 403.0L622.1 404.0L623.0 404.9L624.0 405.0L624.1 406.0L625.0 406.9L626.0 407.0L626.0 409.0L626.5 410.0L628.0 411.0L628.1 412.0L629.0 412.9L630.0 413.0L628.0 413.4L627.2 415.0L626.7 419.0L626.7 428.0L118.0 428.0L118.0 33.0L119.0 33.0Z"/>
<path fill-rule="evenodd" fill="#306a8e" d="M119.0 33.0L526.1 33.0L526.7 61.0L528.0 70.7L530.1 78.0L532.0 82.0L534.0 82.6L537.0 82.2L538.0 80.9L541.0 80.7L541.9 79.0L546.0 79.0L543.0 79.0L542.0 80.0L542.0 81.0L539.0 81.0L538.0 82.0L538.0 83.0L535.0 83.0L534.0 84.0L534.0 85.0L533.0 85.0L532.0 86.0L532.0 87.0L529.0 87.0L528.0 88.0L528.0 89.0L525.0 89.0L524.0 90.0L524.0 91.0L521.0 91.0L520.0 92.0L520.0 93.0L519.0 93.0L518.0 94.0L518.0 95.1L515.0 95.4L514.4 96.0L514.2 99.0L516.0 100.3L517.3 99.0L518.0 98.9L518.0 101.0L517.0 101.0L516.0 102.0L516.0 103.0L515.0 103.0L514.0 104.0L514.0 105.0L511.0 105.0L510.0 106.0L510.0 107.0L509.0 107.0L508.0 108.0L508.0 109.0L507.0 109.0L506.0 110.0L506.0 111.0L505.0 111.0L504.0 112.0L504.0 113.0L501.0 113.0L500.0 114.0L500.0 115.0L499.0 115.0L498.0 116.0L498.0 117.0L497.0 117.0L496.0 118.0L496.0 119.0L493.0 119.1L492.1 120.0L492.0 121.0L489.0 121.1L488.1 122.0L488.0 123.0L485.0 123.1L484.1 124.0L484.0 125.0L483.0 125.0L482.0 126.0L482.0 127.0L479.0 127.0L478.0 128.0L478.0 129.0L475.0 129.0L474.0 130.0L474.0 131.0L471.0 131.0L470.0 132.0L470.0 133.0L467.0 133.1L466.1 134.0L466.0 135.0L463.0 135.1L462.1 136.0L462.0 137.0L459.0 137.1L458.1 138.0L458.0 139.0L457.0 139.1L456.1 140.0L456.0 141.0L455.0 141.1L454.1 142.0L454.0 145.0L452.0 147.0L452.0 151.0L451.0 151.0L450.0 152.0L450.0 157.0L449.0 157.0L448.0 158.0L448.0 161.0L446.0 161.3L444.3 163.0L440.1 170.0L436.0 179.0L436.0 181.0L434.0 183.0L434.0 185.0L432.0 187.0L432.0 189.0L430.0 191.0L430.0 193.0L428.0 195.0L428.0 201.0L427.0 201.0L426.0 202.0L426.0 205.0L428.0 207.0L428.0 212.0L429.0 213.0L430.0 213.0L430.0 214.0L431.0 215.0L432.0 215.0L432.0 224.0L433.0 225.0L434.0 225.0L434.0 234.0L435.0 235.0L436.0 235.0L436.0 238.0L437.0 239.0L438.0 239.0L438.0 242.0L439.0 243.0L440.0 243.0L440.0 244.0L441.0 245.0L442.0 245.0L442.0 246.0L443.0 247.0L444.0 247.0L444.0 248.0L445.0 249.0L446.0 249.0L446.0 250.0L447.0 251.0L448.0 251.0L448.0 252.0L449.0 253.0L452.0 253.0L452.0 254.0L453.0 255.0L454.0 255.0L454.0 256.0L455.0 257.0L458.0 257.0L458.0 258.0L459.0 259.0L460.0 259.0L460.0 260.0L461.0 261.0L464.0 261.0L464.0 262.0L465.0 263.0L468.0 263.0L468.0 264.0L469.0 265.0L470.0 265.0L468.3 266.0L468.3 268.0L470.0 268.9L470.1 270.0L471.0 270.9L474.0 271.0L474.1 272.0L475.0 272.9L476.1 273.0L476.1 274.0L477.0 274.9L482.0 275.0L482.1 276.0L483.0 276.9L492.0 277.0L492.1 278.0L493.0 278.9L496.0 279.0L496.1 280.0L497.0 280.9L498.0 281.0L498.1 282.0L499.0 282.9L500.0 283.0L500.0 285.0L502.0 287.0L502.1 288.0L503.0 288.9L504.0 289.0L504.1 292.0L505.0 292.9L506.0 293.0L506.1 298.0L507.0 298.9L508.0 299.0L508.1 302.0L509.0 302.9L510.0 303.0L510.1 307.0L512.0 309.0L512.0 311.0L514.0 313.0L514.0 315.0L516.0 317.0L516.1 319.0L518.0 321.0L518.1 324.0L519.0 324.9L520.0 324.9L520.1 326.0L521.0 326.9L522.1 327.0L522.1 328.0L523.0 328.9L528.0 329.0L528.1 330.0L529.0 330.9L532.0 331.0L532.1 332.0L533.0 332.9L536.0 333.0L536.1 334.0L537.0 334.9L538.0 335.0L540.0 336.9L542.0 337.0L542.1 338.0L543.0 338.9L546.0 339.0L546.1 340.0L547.0 340.9L550.0 341.0L550.1 342.0L551.0 342.9L552.0 343.0L552.1 344.0L553.0 344.9L556.0 345.0L556.1 346.0L557.0 346.9L560.0 347.0L560.1 348.0L561.0 348.9L562.0 349.0L562.1 352.0L563.0 352.9L564.0 353.0L564.1 354.0L565.0 354.9L566.0 355.0L566.1 356.0L567.0 356.9L568.0 357.0L568.1 358.0L569.0 358.9L570.0 359.0L570.0 361.0L572.0 363.0L572.1 364.0L573.0 364.9L574.0 365.0L574.1 366.0L575.0 366.9L576.0 367.0L576.1 368.0L577.0 368.9L578.0 369.0L578.0 371.0L580.0 373.0L580.1 374.0L581.0 374.9L582.0 375.0L582.1 376.0L583.0 376.9L584.0 377.0L584.1 380.0L585.0 380.9L586.0 381.0L586.1 382.0L587.0 382.9L588.0 383.0L588.1 386.0L589.0 386.9L590.0 387.0L590.1 388.0L591.0 388.9L592.0 389.0L592.1 392.0L593.0 392.9L594.0 392.9L594.1 394.0L595.0 394.9L596.0 395.0L596.1 397.0L598.0 399.0L598.1 400.0L599.0 400.9L600.0 401.0L600.1 403.0L602.0 405.0L602.1 406.0L603.0 406.9L604.0 407.0L604.0 409.0L606.0 411.0L606.0 413.0L605.0 415.0L604.8 417.0L605.1 428.0L118.0 428.0L118.0 33.0L119.0 33.0ZM707.0 33.0L924.0 33.0L924.0 171.1L914.0 171.8L882.0 175.9L872.0 176.0L855.0 175.1L853.0 175.7L852.3 177.0L852.7 178.0L854.0 179.0L852.0 179.0L851.9 176.0L851.0 175.1L848.0 175.0L847.9 172.0L847.0 171.1L844.0 171.0L843.9 170.0L843.0 169.1L842.0 169.0L841.9 168.0L841.0 167.1L840.0 167.0L839.9 166.0L839.0 165.1L836.0 165.0L835.9 164.0L835.0 163.1L834.0 163.0L833.9 162.0L833.0 161.1L832.0 161.0L831.9 160.0L831.0 159.1L830.0 159.0L829.9 156.0L829.0 155.1L826.0 155.0L825.9 154.0L825.0 153.1L822.0 153.0L821.9 152.0L821.0 151.1L818.0 151.0L817.9 150.0L817.0 149.1L816.0 149.0L815.9 148.0L815.0 147.1L812.0 147.0L811.9 146.0L811.0 145.1L810.0 145.0L809.9 144.0L809.0 143.1L806.0 143.0L805.9 142.0L805.0 141.1L804.0 141.0L803.9 140.0L803.0 139.1L802.0 139.0L801.9 138.0L801.0 137.1L800.0 137.0L799.9 136.0L799.0 135.1L798.0 135.0L796.0 133.0L794.0 133.0L793.9 132.0L793.0 131.1L792.0 131.0L791.9 130.0L791.0 129.1L790.0 129.0L789.9 128.0L789.0 127.1L788.0 127.0L787.9 126.0L787.0 125.1L786.0 125.0L785.9 124.0L785.0 123.1L784.0 123.0L783.9 122.0L783.0 121.1L782.0 121.0L781.9 120.0L781.0 119.1L780.0 119.0L779.9 118.0L779.0 117.1L778.0 117.0L777.9 116.0L777.0 115.1L776.0 115.0L775.9 114.0L775.0 113.1L774.0 113.0L773.9 112.0L773.0 111.1L772.0 111.0L772.0 109.0L770.0 107.0L769.9 101.0L768.0 99.0L767.8 94.0L766.0 93.0L765.8 86.0L763.9 85.0L763.8 78.0L761.9 77.0L761.7 68.0L759.9 67.0L759.7 59.0L757.8 57.0L757.4 51.0L756.0 48.7L754.0 48.2L752.0 49.3L744.0 49.2L743.0 49.5L742.0 51.1L734.0 51.1L733.0 51.4L732.0 53.1L723.0 53.2L722.0 55.0L713.0 55.2L712.0 57.0L694.0 57.0L693.0 55.3L692.0 55.1L691.0 55.3L690.0 57.0L648.0 57.0L676.0 56.3L678.0 55.9L680.0 54.4L699.0 52.4L702.0 50.7L704.5 47.0L705.7 41.0L706.2 33.0L707.0 33.0ZM646.0 53.0L646.0 55.0L646.0 53.0Z"/>
<path fill-rule="evenodd" fill="#2a778e" d="M119.0 33.0L466.4 33.0L466.9 81.0L465.9 91.0L463.0 95.8L452.0 105.5L446.0 112.0L441.0 119.6L433.1 135.0L432.0 136.4L430.3 137.0L430.1 141.0L432.0 143.0L432.1 150.0L433.0 150.9L434.0 151.0L434.0 161.0L433.0 161.1L432.1 162.0L432.0 169.0L431.0 169.1L430.1 170.0L430.0 175.0L429.0 175.0L428.0 176.0L428.0 179.0L427.0 179.1L426.1 180.0L426.0 185.0L424.0 187.0L424.0 193.0L422.0 195.0L422.0 204.0L423.0 205.0L424.0 205.0L424.0 214.0L425.0 215.0L426.0 215.0L426.0 220.0L427.0 221.0L428.0 221.0L428.0 231.0L430.0 233.0L430.0 236.0L431.0 237.0L432.0 237.0L432.0 242.0L433.0 243.0L434.0 243.0L434.0 246.0L435.0 247.0L436.0 247.0L436.0 248.0L437.0 249.0L438.0 249.0L438.0 250.0L439.0 251.0L440.0 251.0L440.0 252.0L441.0 253.0L442.0 253.0L442.0 256.0L443.0 257.0L444.0 257.0L444.0 258.0L445.0 259.0L446.0 259.0L446.0 260.0L447.0 261.0L448.0 261.0L448.0 262.0L449.0 263.0L450.0 263.0L450.0 264.0L451.0 265.0L452.0 265.0L452.0 266.0L453.0 267.0L454.0 267.0L454.0 268.0L455.0 269.0L456.0 269.0L458.0 271.0L460.0 271.0L460.0 272.0L461.0 273.0L462.0 273.0L462.0 274.0L463.0 275.0L464.0 275.0L464.0 276.0L465.0 277.0L466.0 277.0L466.0 278.0L467.0 279.0L468.0 279.0L468.1 280.0L469.0 280.9L472.0 281.0L472.0 282.0L473.0 283.0L476.0 283.0L476.1 284.0L477.0 284.9L480.0 285.0L480.1 286.0L481.0 286.9L484.0 287.0L484.1 288.0L485.0 288.9L490.0 289.0L490.0 291.0L492.0 293.0L492.1 296.0L493.0 296.9L494.0 297.0L494.1 300.0L495.0 300.9L496.0 301.0L496.1 308.0L497.0 308.9L498.0 309.0L498.1 312.0L499.0 312.9L500.0 313.0L500.1 314.0L501.0 314.9L502.0 315.0L502.1 316.0L503.0 316.9L504.0 317.0L504.0 319.0L505.4 320.0L506.1 322.0L507.0 322.9L508.0 323.0L508.1 324.0L509.0 324.9L510.0 325.0L510.0 326.0L511.0 327.0L512.0 327.0L512.0 328.0L513.0 329.0L514.0 329.0L514.0 330.0L515.0 331.0L516.0 331.0L516.0 333.0L518.0 333.7L534.0 344.2L536.0 345.2L538.0 345.0L538.1 350.0L539.0 350.9L540.0 351.0L540.1 356.0L541.0 356.9L542.0 356.9L542.1 358.0L543.0 358.9L546.0 359.0L546.1 360.0L547.0 360.9L550.0 361.0L550.1 362.0L551.0 362.9L552.0 363.0L552.1 364.0L553.0 364.9L554.0 365.0L554.1 366.0L555.0 366.9L556.0 367.0L556.1 368.0L557.0 368.9L558.0 369.0L558.1 370.0L559.0 370.9L560.0 371.0L560.0 373.0L562.0 375.0L562.1 376.0L563.0 376.9L564.0 377.0L564.1 379.0L566.0 381.0L566.1 382.0L567.0 382.9L568.0 383.0L568.1 384.0L569.0 384.9L570.0 385.0L570.1 388.0L571.0 388.9L572.0 389.0L572.1 390.0L573.0 390.9L574.0 391.0L574.1 396.0L575.0 396.9L576.0 396.9L576.1 400.0L577.0 400.9L578.0 401.0L578.1 406.0L579.0 406.9L580.0 407.0L580.1 410.0L581.0 410.9L582.0 410.9L582.0 413.0L584.3 417.0L585.6 422.0L586.3 428.0L118.0 428.0L118.0 33.0L119.0 33.0ZM185.0 150.0L180.0 152.1L177.7 154.0L176.4 156.0L176.0 169.0L174.1 171.0L174.1 175.0L172.2 176.0L172.1 179.0L170.2 181.0L170.0 183.3L168.5 184.0L168.0 188.0L166.8 189.0L168.0 190.2L168.6 192.0L170.0 192.7L171.0 194.6L172.0 194.8L172.4 198.0L174.0 198.8L175.0 200.7L176.0 200.9L177.0 202.8L178.0 202.9L178.2 206.0L180.0 206.9L181.0 208.8L182.0 208.9L182.1 210.0L183.0 210.9L184.0 210.9L184.2 214.0L185.0 214.8L186.0 214.9L186.1 216.0L187.0 216.9L188.0 217.0L188.1 220.0L189.0 220.9L190.0 220.9L190.1 222.0L191.0 222.9L192.0 223.0L192.1 224.0L193.0 224.9L194.0 225.0L194.0 226.0L195.0 227.0L196.0 227.0L196.1 230.0L197.0 230.9L201.0 230.9L201.9 230.0L201.9 229.0L203.0 228.9L203.9 228.0L204.0 227.0L205.0 226.9L205.9 226.0L206.0 225.0L207.0 225.0L208.0 224.0L208.0 223.0L209.0 223.0L210.0 222.0L210.0 221.0L211.0 220.9L211.9 220.0L212.0 218.9L213.0 218.9L213.9 218.0L214.0 216.9L215.0 216.8L215.8 216.0L215.9 213.0L217.8 212.0L217.9 207.0L219.0 206.8L219.8 206.0L220.0 204.9L221.8 204.0L222.0 200.9L223.0 200.8L224.0 198.9L225.0 198.8L226.0 196.9L227.8 196.0L227.9 193.0L229.8 192.0L229.9 189.0L231.0 188.9L231.9 188.0L232.0 183.0L233.0 182.9L233.9 182.0L234.0 178.9L235.0 178.9L235.9 178.0L235.9 169.0L235.7 168.0L232.0 166.4L222.0 159.6L208.0 153.1L196.0 149.8L190.0 149.3L185.0 150.0ZM338.3 376.0L338.0 377.0L337.0 377.3L336.0 379.0L334.4 380.0L334.0 383.0L331.0 383.5L324.0 391.0L324.0 393.0L326.0 395.0L326.0 397.0L328.0 399.0L332.0 399.7L334.0 399.0L334.0 397.0L335.0 396.9L335.9 396.0L336.0 391.0L337.0 391.0L338.0 390.0L338.0 385.0L339.0 385.0L340.0 384.0L340.0 381.0L342.0 379.0L342.0 376.0L341.0 375.0L339.0 375.3L338.3 376.0ZM784.0 33.0L894.7 33.0L893.2 39.0L889.1 47.0L881.1 57.0L871.1 67.0L870.6 69.0L871.0 71.6L872.0 72.3L872.7 74.0L874.2 75.0L874.4 78.0L876.1 79.0L876.2 81.0L878.0 82.8L878.2 84.0L880.1 85.0L880.2 88.0L881.0 88.8L882.0 88.9L882.1 91.0L884.1 93.0L884.2 94.0L885.0 94.8L886.1 95.0L886.3 98.0L888.0 98.9L888.2 101.0L890.2 103.0L890.4 104.0L892.2 105.0L892.6 108.0L894.2 109.0L894.7 112.0L896.2 113.0L896.4 115.0L898.2 117.0L898.3 119.0L899.7 121.0L900.3 123.0L900.7 129.0L898.9 137.0L895.8 143.0L891.0 148.5L882.7 155.0L877.0 157.9L871.0 158.5L870.0 159.0L869.9 158.0L869.0 157.1L864.0 157.0L863.9 156.0L863.0 155.1L860.0 155.0L859.9 154.0L859.0 153.1L856.0 153.0L854.0 151.1L850.0 151.0L849.9 150.0L849.0 149.1L846.0 149.0L845.9 148.0L845.0 147.1L842.0 147.0L841.9 146.0L841.0 145.1L840.0 145.0L839.0 143.4L836.0 143.0L835.9 142.0L835.0 141.1L834.0 141.0L833.9 140.0L833.0 139.1L832.0 139.0L831.9 138.0L831.0 137.1L830.0 137.0L829.9 136.0L829.0 135.1L828.0 135.0L827.0 133.5L826.0 133.1L824.0 133.0L823.9 132.0L823.0 131.1L822.0 131.0L821.9 130.0L821.0 129.1L820.0 129.0L819.9 127.0L819.3 126.0L813.0 119.8L812.0 119.1L808.0 119.0L807.9 118.0L807.0 117.1L806.0 117.0L805.9 114.0L805.0 113.1L804.0 113.1L803.9 112.0L803.0 111.1L802.0 111.0L801.9 110.0L801.0 109.1L800.0 109.0L799.9 108.0L799.0 107.1L798.0 107.0L797.9 106.0L797.0 105.1L796.0 105.0L795.9 104.0L795.0 103.1L794.0 103.0L793.9 102.0L793.0 101.1L792.0 101.0L791.9 100.0L791.0 99.1L790.0 99.0L789.9 96.0L789.0 95.1L788.0 95.1L787.9 94.0L787.0 93.1L786.0 93.0L785.9 90.0L785.0 89.1L784.0 89.0L783.9 86.0L783.0 85.1L782.0 85.0L782.0 47.0L783.2 43.0L784.0 33.0ZM484.0 98.9L484.0 102.1L482.7 103.0L483.3 105.0L485.0 105.9L488.0 106.2L488.0 107.0L487.0 107.0L486.0 108.0L486.0 109.0L483.0 109.0L482.0 110.0L482.0 111.0L481.0 111.0L480.0 112.0L480.0 113.0L479.9 112.0L479.0 111.1L478.0 111.0L477.9 110.0L477.0 109.1L476.0 109.0L475.9 108.0L475.0 107.1L473.9 107.0L473.9 105.0L477.0 104.2L477.6 103.0L479.3 102.0L479.7 101.0L483.0 100.5L484.0 98.9ZM494.0 100.9L496.0 101.0L495.0 101.0L494.0 102.0L494.0 103.0L493.0 103.0L492.0 104.0L492.0 105.0L489.2 105.0L491.0 104.3L491.7 103.0L493.0 102.7L494.0 100.9Z"/>
<path fill-rule="evenodd" fill="#25838e" d="M194.0 33.0L403.6 33.0L404.7 51.0L410.4 94.0L412.3 119.0L412.2 141.0L411.0 147.4L408.1 153.0L408.2 158.0L410.0 158.9L410.2 162.0L412.0 163.0L412.1 166.0L413.0 166.9L414.0 167.0L414.1 171.0L415.6 172.0L416.1 174.0L417.0 174.9L418.0 175.0L418.1 178.0L419.0 178.9L420.0 179.0L420.0 209.0L422.0 211.0L422.0 222.0L423.0 223.0L424.0 223.0L424.0 232.0L425.0 233.0L426.0 233.0L426.0 238.0L427.0 239.0L428.0 239.0L428.0 244.0L429.0 245.0L430.0 245.0L430.0 248.0L431.0 249.0L432.0 249.0L432.0 252.0L433.0 253.0L434.0 253.0L434.0 255.0L436.0 257.0L436.0 259.0L438.0 261.0L438.0 262.0L439.0 263.0L442.0 263.0L443.0 263.5L445.7 266.0L446.3 267.0L446.0 268.2L444.1 269.0L445.0 269.2L446.0 270.9L448.0 271.0L448.0 272.0L449.0 273.0L450.0 273.0L450.0 274.0L451.0 275.0L452.0 275.0L452.0 276.0L453.0 277.0L454.0 277.0L454.0 278.0L455.0 279.0L456.0 279.0L456.0 280.0L457.0 281.0L458.0 281.0L460.0 283.0L462.0 283.0L462.0 284.0L463.0 285.0L464.0 285.0L464.0 286.0L465.0 287.0L466.0 287.0L466.0 288.0L467.0 289.0L468.0 289.0L470.0 291.0L472.0 291.0L472.0 292.0L473.0 293.0L474.0 293.0L476.0 295.0L478.0 295.0L478.0 296.0L479.0 297.0L480.0 297.0L482.0 299.0L484.0 299.0L484.0 302.0L485.0 303.0L486.0 303.0L486.0 304.0L487.0 305.0L488.0 305.0L488.0 308.0L489.0 309.0L490.0 309.0L490.0 311.0L492.0 313.0L492.0 314.0L493.0 315.0L494.0 315.0L494.0 316.0L495.0 317.0L496.0 317.0L496.0 319.0L498.0 321.0L498.0 322.0L499.0 323.0L500.0 323.0L500.0 324.0L501.0 325.0L502.0 325.0L502.0 326.0L503.0 327.0L504.0 327.0L504.0 329.0L506.0 331.0L506.0 332.0L507.0 333.0L508.0 333.0L508.0 334.0L509.0 335.0L510.0 335.0L510.0 336.0L511.0 337.0L512.0 337.0L512.0 338.0L513.0 339.0L514.0 339.0L514.0 340.0L515.0 341.0L516.0 341.0L516.1 344.0L517.0 344.9L518.1 345.0L518.6 348.0L520.0 348.7L521.7 347.0L522.0 345.0L522.0 346.0L523.0 347.0L524.0 347.0L524.0 348.0L525.0 349.0L526.0 349.0L526.0 350.0L527.0 351.0L528.0 351.0L528.0 353.0L530.0 355.0L530.1 356.0L531.0 356.9L532.0 357.0L536.0 361.0L538.0 361.0L538.0 362.0L539.0 363.0L540.0 363.0L540.0 364.0L541.0 365.0L542.0 365.0L542.0 366.0L543.0 367.0L544.0 367.0L544.0 368.0L545.0 369.0L546.0 369.0L546.0 371.0L548.0 373.0L548.0 374.0L549.0 375.0L550.0 375.0L550.0 376.0L551.0 377.0L552.0 377.0L552.0 379.0L554.0 381.0L554.1 382.0L555.0 382.9L556.0 383.0L556.0 384.0L557.0 385.0L558.0 385.0L558.1 388.0L559.0 388.9L560.0 389.0L560.1 392.0L561.0 392.9L562.0 393.0L562.1 396.0L563.0 396.9L564.0 397.0L564.1 398.0L565.0 398.9L566.0 399.0L566.1 402.0L567.0 402.9L568.0 403.0L568.1 406.0L569.0 406.9L570.0 407.0L570.0 410.0L571.0 411.0L572.0 411.0L571.0 417.0L571.7 428.0L118.0 428.0L118.0 239.0L144.0 239.2L158.0 238.3L170.0 235.4L176.0 233.0L180.0 230.5L182.0 230.0L190.0 233.3L191.7 233.0L192.0 231.0L192.2 234.0L194.0 235.0L195.0 236.8L196.0 237.0L196.0 238.0L197.0 239.0L198.0 239.0L199.0 240.6L200.0 241.0L200.1 242.0L201.0 242.9L202.0 243.0L204.1 245.0L205.0 246.7L207.0 246.7L207.9 245.0L209.0 244.9L209.9 244.0L210.0 241.0L211.0 241.0L212.0 240.0L212.0 237.0L213.0 237.0L214.0 236.0L214.0 233.0L215.0 232.9L215.9 232.0L216.0 231.0L217.0 230.9L217.9 230.0L218.0 227.0L219.0 227.0L220.0 226.0L220.0 225.0L221.0 224.9L221.9 224.0L222.0 221.0L223.0 221.0L224.0 220.0L224.0 219.0L225.0 219.0L226.0 218.0L226.0 217.0L227.0 216.9L227.9 216.0L228.0 213.0L229.0 213.0L230.0 212.0L230.0 209.0L232.0 207.0L232.0 203.0L233.0 203.0L234.0 202.0L234.0 199.0L235.0 199.0L236.0 198.0L236.0 195.0L237.0 195.0L238.0 194.0L238.0 191.0L239.0 191.0L240.0 190.0L240.0 187.0L242.0 185.0L242.0 181.0L243.0 180.9L243.9 180.0L244.0 175.0L245.0 174.9L245.9 174.0L246.0 169.0L246.8 167.0L246.8 163.0L244.4 154.0L239.5 142.0L232.0 126.2L209.0 83.0L201.6 67.0L197.9 57.0L195.2 47.0L193.7 37.0L193.5 33.0L194.0 33.0ZM332.2 342.0L332.0 343.1L329.0 343.2L328.2 344.0L328.0 347.0L327.0 347.1L326.1 348.0L326.0 349.1L325.0 349.1L324.1 350.0L324.0 353.0L323.0 353.1L322.1 354.0L321.7 356.0L320.1 357.0L320.0 359.0L319.0 359.1L318.1 360.0L317.9 362.0L317.0 362.9L316.1 363.0L315.9 366.0L314.1 367.0L314.0 369.0L313.0 369.1L312.1 370.0L312.0 371.1L311.0 371.2L310.2 372.0L310.0 373.1L308.2 374.0L308.1 379.0L306.2 380.0L306.1 385.0L304.2 386.0L304.0 392.1L303.1 393.0L304.0 393.1L306.6 396.0L312.7 405.0L316.0 408.8L320.4 412.0L326.0 413.6L330.0 413.2L334.0 411.6L338.0 408.6L340.8 405.0L342.3 401.0L342.0 399.0L343.4 398.0L344.0 397.0L344.0 395.0L346.0 393.0L346.0 389.0L347.0 388.9L347.9 388.0L348.0 385.0L349.0 384.9L349.9 384.0L350.0 381.0L351.0 380.9L351.9 380.0L352.0 377.0L353.0 376.9L353.9 376.0L354.0 373.0L355.0 372.9L355.9 372.0L356.0 369.0L357.0 368.9L357.9 368.0L358.0 365.0L359.8 364.0L359.9 361.0L361.7 360.0L362.0 356.8L363.6 356.0L364.0 350.6L365.0 350.1L365.6 349.0L365.0 343.0L363.0 341.6L336.0 341.1L333.0 341.2L332.2 342.0ZM810.0 51.0L818.0 50.6L819.0 51.2L820.0 52.8L824.0 52.9L825.0 54.8L826.0 54.9L826.1 57.0L827.4 58.0L828.2 60.0L829.0 60.8L830.0 60.9L830.1 62.0L831.0 62.9L832.0 63.0L829.0 63.3L828.3 64.0L827.9 70.0L827.3 72.0L826.1 73.0L826.2 74.0L828.1 75.0L829.0 76.8L832.0 76.6L836.0 73.2L837.2 73.0L836.0 71.8L836.1 69.0L836.1 70.0L837.0 70.9L838.1 71.0L838.1 73.0L840.1 75.0L840.2 76.0L841.0 76.8L842.0 76.9L842.2 78.0L843.0 78.8L844.1 79.0L844.1 81.0L845.4 82.0L846.2 84.0L847.0 84.8L848.0 84.9L848.1 86.0L849.0 86.9L850.0 87.0L850.2 90.0L852.0 90.9L852.1 92.0L853.0 92.9L854.0 92.9L854.1 94.0L855.0 94.9L856.0 94.9L856.1 98.0L857.0 98.9L858.0 98.9L858.1 100.0L859.0 100.9L860.0 101.0L860.0 103.0L857.9 103.0L857.9 102.0L857.0 101.1L853.9 101.0L853.8 100.0L853.0 99.2L847.9 99.0L847.9 98.0L847.0 97.1L845.9 97.0L845.8 96.0L845.0 95.2L843.9 95.0L843.8 94.0L843.0 93.2L841.9 93.0L841.8 92.0L839.9 91.0L839.8 90.0L837.9 89.0L837.8 88.0L837.0 87.2L835.0 86.3L834.0 85.0L833.9 83.0L832.3 82.0L831.8 80.0L830.0 79.1L829.0 77.2L828.0 77.1L827.0 75.2L826.0 75.1L825.0 73.2L824.0 73.1L823.0 71.2L820.4 70.0L819.8 68.0L819.0 67.2L818.0 67.1L817.8 66.0L817.0 65.2L816.0 65.1L815.9 64.0L815.0 63.1L814.0 63.1L813.9 61.0L812.4 60.0L812.0 59.0L811.9 55.0L810.0 53.0L810.0 51.0Z"/>
<path fill-rule="evenodd" fill="#21918c" d="M319.0 81.9L328.0 81.9L336.0 83.5L344.0 86.4L354.0 91.7L363.0 98.0L372.0 105.9L380.0 114.4L387.4 124.0L392.4 132.0L396.0 139.5L397.9 145.0L399.0 150.8L400.0 151.0L400.0 154.0L401.0 155.0L402.0 155.0L402.0 158.0L403.0 159.0L404.0 159.0L404.0 162.0L405.0 163.0L406.0 163.0L406.0 166.0L407.0 167.0L408.0 167.0L408.0 170.0L409.0 171.0L410.0 171.0L410.0 174.0L411.0 175.0L412.0 175.0L412.0 178.0L413.0 179.0L414.0 179.0L413.0 179.0L412.0 180.0L412.0 182.0L413.0 183.0L414.0 183.0L414.0 188.0L415.0 189.0L416.0 189.0L416.0 200.0L417.0 201.0L418.0 201.0L418.0 232.0L419.0 233.0L420.0 233.0L420.0 238.0L421.0 239.0L422.0 239.0L422.0 244.0L423.0 245.0L424.0 245.0L424.0 249.0L426.0 251.0L426.0 254.0L427.0 255.0L428.0 255.0L428.0 258.0L429.0 259.0L430.0 259.0L430.0 262.0L431.0 263.0L432.0 263.0L432.0 265.0L441.3 270.0L442.0 271.0L442.0 276.0L443.0 277.0L444.0 277.0L444.0 278.0L445.0 279.0L446.0 279.0L446.0 280.0L447.0 281.0L448.0 281.0L448.0 282.0L449.0 283.0L452.0 283.0L452.0 284.0L453.0 285.0L454.0 285.0L454.0 286.0L455.0 287.0L456.0 287.0L456.0 288.0L457.0 289.0L458.0 289.0L458.0 290.0L459.0 291.0L460.0 291.0L460.0 292.0L461.0 293.0L462.0 293.0L462.0 294.0L463.0 295.0L465.0 295.5L466.0 297.0L467.0 297.3L468.0 299.0L469.8 300.0L470.0 301.0L471.0 301.1L471.9 302.0L472.0 302.9L473.0 301.3L475.0 301.0L476.0 300.0L476.0 299.0L476.0 300.0L477.0 301.0L478.0 301.0L478.0 304.0L479.0 305.0L480.0 305.0L480.0 306.0L481.0 307.0L482.0 307.0L482.0 310.0L483.0 311.0L484.0 311.0L484.0 312.0L485.0 313.0L486.0 313.0L486.0 314.0L487.0 315.0L488.0 315.0L488.0 318.0L489.0 319.0L490.0 319.0L490.0 320.0L491.0 321.0L492.0 321.0L492.0 322.0L493.0 323.0L494.0 323.0L494.0 326.0L495.0 327.0L496.0 327.0L496.0 328.0L497.0 329.0L498.0 329.0L498.0 330.0L499.0 331.0L500.0 331.0L500.0 332.0L501.0 333.0L502.0 333.0L502.0 335.0L504.0 337.0L504.0 338.0L505.0 339.0L506.0 339.0L506.0 340.0L507.0 341.0L508.0 341.0L508.0 343.0L510.0 345.0L512.0 345.0L512.0 346.0L513.0 347.0L514.0 347.0L514.0 348.0L515.0 349.0L516.0 349.0L516.0 352.0L517.0 353.0L518.0 353.0L518.0 354.0L519.0 355.0L520.0 355.0L520.0 356.0L521.0 357.0L522.0 357.0L522.0 358.0L523.0 359.0L524.0 359.0L524.0 361.0L526.0 363.0L526.0 364.0L527.0 365.0L528.0 365.0L528.0 366.0L529.0 367.0L530.0 367.0L530.0 368.0L531.0 369.0L532.0 369.0L532.0 370.0L533.0 371.0L534.0 371.0L534.0 373.0L536.0 375.0L536.1 376.0L537.0 376.9L538.0 377.0L538.1 378.0L539.0 378.9L540.0 379.0L540.0 381.0L542.0 383.0L542.1 384.0L543.0 384.9L544.0 385.0L544.1 386.0L545.0 386.9L546.0 387.0L546.1 390.0L547.0 390.9L548.0 391.0L548.1 394.0L549.0 394.9L550.0 395.0L550.1 398.0L551.0 398.9L552.0 399.0L552.1 402.0L553.0 402.9L554.0 403.0L554.1 408.0L555.0 408.9L556.0 409.0L556.0 411.0L558.5 421.0L559.2 428.0L356.3 428.0L358.5 407.0L358.0 393.0L359.0 392.9L359.9 392.0L360.0 385.0L361.0 384.9L361.9 384.0L362.0 381.0L363.0 380.9L363.9 380.0L364.0 377.0L365.0 377.0L366.0 376.0L366.0 373.0L367.0 373.0L368.0 372.0L368.0 369.0L369.0 369.0L370.0 368.0L370.0 365.0L371.0 365.0L372.0 364.0L372.0 361.0L373.0 361.0L374.0 360.0L374.0 357.0L375.0 356.9L375.9 356.0L375.9 350.0L375.0 349.1L374.0 349.0L374.0 339.0L375.0 338.9L375.9 338.0L375.9 325.0L375.0 323.2L372.0 323.1L371.9 322.0L371.0 321.1L368.0 321.0L367.9 320.0L367.0 319.1L364.0 319.0L362.0 317.1L360.0 317.0L358.0 315.1L356.0 315.1L354.0 313.1L351.8 313.0L351.3 312.0L350.0 311.2L348.0 311.2L347.9 312.0L346.0 313.1L345.0 314.8L343.0 315.2L342.2 316.0L342.1 317.0L341.0 317.1L340.1 318.0L340.1 319.0L339.0 319.1L338.1 320.0L338.1 321.0L337.0 321.1L336.1 322.0L336.1 323.0L335.0 323.1L334.1 324.0L334.0 325.0L333.0 325.1L332.1 326.0L332.0 327.0L330.0 329.0L330.0 331.0L329.0 331.1L328.1 332.0L328.0 335.0L327.0 335.0L326.0 336.0L326.0 337.0L324.0 339.0L324.0 341.0L323.0 341.0L322.0 342.0L322.0 345.0L321.0 345.0L320.0 346.0L320.0 349.0L319.0 349.0L318.0 350.0L318.0 351.0L317.7 348.0L317.0 347.3L315.0 347.3L314.3 348.0L314.0 351.0L313.0 351.0L312.0 352.0L312.0 353.0L310.0 355.0L310.0 357.0L309.0 357.0L308.0 358.0L307.7 361.0L306.0 363.0L305.1 366.0L304.0 366.9L302.2 367.0L302.0 369.0L301.0 369.0L300.0 370.0L300.0 371.0L299.0 371.1L298.1 372.0L298.0 375.0L296.0 377.0L296.0 379.0L295.0 379.1L294.1 380.0L294.0 383.0L293.0 383.1L292.1 384.0L292.0 387.0L291.0 387.1L290.1 388.0L290.0 391.1L289.0 391.1L288.1 392.0L288.1 395.0L289.4 397.0L289.5 401.0L285.4 428.0L118.0 428.0L118.0 361.9L126.0 361.0L134.0 359.4L150.0 353.6L166.0 345.3L203.4 323.0L223.0 313.6L228.0 310.5L230.0 310.5L230.1 305.0L229.0 304.7L228.2 303.0L222.0 302.4L220.7 301.0L220.7 297.0L222.5 295.0L222.4 291.0L217.5 285.0L214.2 275.0L210.9 269.0L210.0 265.0L210.0 263.0L211.0 262.9L211.9 262.0L212.0 255.0L213.0 255.0L214.0 254.0L214.0 251.0L215.0 251.0L216.0 250.0L216.0 245.0L217.0 245.0L218.0 244.0L218.0 241.0L219.0 241.0L220.0 240.0L220.0 239.0L221.0 239.0L222.0 238.0L222.0 235.0L223.0 235.0L224.0 234.0L224.0 233.0L225.0 233.0L226.0 232.0L226.0 229.0L227.0 229.0L228.0 228.0L228.0 227.0L229.0 227.0L230.0 226.0L230.0 223.0L231.0 223.0L232.0 222.0L232.0 221.0L233.0 221.0L234.0 220.0L234.0 217.0L235.0 217.0L236.0 216.0L236.0 215.0L237.0 215.0L238.0 214.0L238.0 211.0L240.0 209.0L240.0 205.0L241.0 205.0L242.0 204.0L242.0 201.0L243.0 201.0L244.0 200.0L244.0 197.0L245.0 197.0L246.0 196.0L246.0 193.0L247.0 193.0L248.0 192.0L248.0 189.0L249.0 189.0L250.0 188.0L250.0 185.0L251.0 184.9L251.9 184.0L252.0 181.0L253.0 181.0L254.0 180.0L254.0 179.0L255.0 178.9L255.9 178.0L256.0 177.0L257.0 176.9L257.9 176.0L258.0 175.0L259.0 174.9L259.9 174.0L260.0 172.9L261.0 172.9L261.9 172.0L262.5 170.0L263.9 169.0L263.1 163.0L263.2 157.0L265.7 141.0L270.5 126.0L277.7 112.0L286.0 100.7L296.0 91.5L302.0 87.5L308.0 84.7L314.0 82.8L319.0 81.9ZM316.0 357.0L316.0 361.0L316.0 357.0Z"/>
<path fill-rule="evenodd" fill="#1e9d89" d="M326.0 131.9L334.0 131.3L342.0 131.5L350.0 132.5L360.0 134.8L374.0 140.2L382.0 144.7L390.0 151.0L392.0 151.0L392.0 156.0L393.0 157.0L394.0 157.0L394.0 160.0L395.0 161.0L396.0 161.0L396.0 164.0L397.0 165.0L398.0 165.0L398.0 166.0L399.0 167.0L400.0 167.0L400.0 168.0L401.0 169.0L402.0 169.0L402.0 172.0L403.0 173.0L404.0 173.0L404.0 176.0L405.0 177.0L406.0 177.0L406.0 178.0L407.0 179.0L408.0 179.0L408.0 186.0L409.0 187.0L410.0 187.0L410.0 194.0L411.0 195.0L412.0 195.0L412.0 204.0L413.0 205.0L414.0 205.0L414.0 215.0L413.0 215.0L412.0 216.0L412.0 237.0L414.0 239.0L414.0 243.0L416.0 245.0L416.0 249.0L418.0 251.0L418.1 258.0L419.0 258.9L420.0 259.0L420.2 270.0L421.0 270.8L422.0 270.9L440.0 271.0L435.0 271.5L435.5 275.0L437.0 277.5L446.0 287.0L448.0 287.5L454.0 290.8L463.0 296.6L468.0 300.4L470.5 303.0L471.0 304.4L474.0 305.7L476.0 305.4L477.7 307.0L481.6 313.0L481.6 316.0L480.0 317.0L480.1 318.0L481.0 318.9L482.0 319.0L482.0 320.0L483.0 321.0L484.0 321.0L484.0 322.0L485.0 323.0L486.0 323.0L486.0 325.0L488.0 327.0L488.0 328.0L489.0 329.0L490.0 329.0L490.0 330.0L491.0 331.0L492.0 331.0L492.0 333.0L494.0 335.0L494.0 336.0L495.0 337.0L496.0 337.0L496.0 338.0L497.0 339.0L498.0 339.0L498.0 340.0L499.0 341.0L500.0 341.0L500.0 344.0L501.0 345.0L504.0 345.0L504.0 346.0L505.0 347.0L506.0 347.0L506.0 350.0L507.0 351.0L508.0 351.0L508.0 352.0L509.0 353.0L510.0 353.0L510.0 354.0L511.0 355.0L512.0 355.0L512.0 356.0L513.0 357.0L514.0 357.0L514.0 360.0L515.0 361.0L516.0 361.0L516.0 362.0L517.0 363.0L518.0 363.0L518.0 364.0L519.0 365.0L520.0 365.0L520.0 366.0L521.0 367.0L522.0 367.0L522.0 368.0L523.0 369.0L524.0 369.0L524.0 371.0L526.0 373.0L526.0 374.0L527.0 375.0L528.0 375.0L528.0 376.0L529.0 377.0L530.0 377.0L530.0 378.0L531.0 379.0L532.0 379.0L532.0 382.0L533.0 383.0L534.0 383.0L534.0 384.0L535.0 385.0L536.0 385.0L536.0 386.0L537.0 387.0L538.0 387.0L538.0 390.0L539.0 391.0L540.0 391.0L540.0 394.0L541.0 395.0L542.0 395.0L542.1 402.0L543.0 402.9L544.0 403.0L544.0 411.0L545.5 413.0L546.8 417.0L548.4 428.0L380.6 428.0L379.8 409.0L379.3 405.0L378.0 403.0L378.0 401.0L379.0 400.9L379.9 400.0L380.0 389.0L381.0 388.9L381.9 388.0L382.0 382.9L383.0 382.9L383.9 382.0L383.9 352.0L383.0 351.1L382.0 351.0L382.0 339.0L382.9 342.0L384.0 342.9L385.1 342.0L385.9 338.0L385.8 312.0L385.0 311.2L384.0 311.1L383.8 310.0L383.0 309.2L380.0 309.0L378.0 307.1L374.0 307.0L373.9 306.0L373.0 305.1L370.0 305.0L368.0 303.0L364.0 303.0L364.0 302.0L363.0 301.0L355.0 301.0L354.0 302.0L354.0 303.0L351.0 303.0L350.0 304.0L350.0 305.0L347.0 305.0L346.0 306.0L346.0 307.0L343.0 307.0L342.0 308.0L342.0 309.0L339.0 309.0L338.0 310.0L338.0 311.0L335.0 311.0L334.0 312.0L334.0 313.0L333.0 313.0L332.0 314.0L332.0 315.0L331.0 315.0L330.0 316.0L330.0 317.0L329.0 317.0L328.0 318.0L328.0 319.0L327.0 319.0L326.0 320.0L326.0 321.0L325.0 321.1L324.1 322.0L324.0 325.0L323.0 325.0L322.0 326.0L322.0 327.0L321.0 327.1L320.1 328.0L320.0 331.0L319.0 331.0L318.0 332.0L318.0 335.0L317.0 335.0L316.0 336.0L316.0 339.0L315.0 339.0L314.0 340.0L314.0 341.0L312.6 342.0L312.0 343.0L312.0 345.0L311.0 345.0L310.0 346.0L310.0 349.0L309.0 349.0L308.0 350.0L308.0 355.0L307.0 355.0L306.0 356.0L306.0 357.0L304.0 358.3L298.0 366.4L296.0 367.6L293.0 367.1L292.1 368.0L292.0 371.0L290.2 372.0L290.0 377.0L289.0 377.0L288.0 378.0L288.0 381.0L287.0 381.0L286.0 382.0L286.0 385.0L284.0 387.0L284.0 391.0L283.0 391.0L282.0 392.0L282.0 395.0L281.0 394.2L274.0 394.9L268.0 393.7L263.0 391.0L258.9 387.0L256.4 383.0L255.0 379.0L254.1 371.0L254.7 367.0L256.6 361.0L257.9 359.0L260.0 358.9L260.0 355.0L259.0 355.0L258.1 354.0L258.0 352.9L257.0 352.8L256.3 352.0L256.0 346.8L255.0 346.6L254.0 344.6L253.0 344.2L252.0 342.4L251.0 341.7L250.4 339.0L247.4 335.0L246.2 330.0L242.2 325.0L236.8 315.0L233.2 311.0L230.8 304.0L224.8 297.0L223.9 291.0L220.3 283.0L220.6 279.0L222.0 278.1L222.5 277.0L222.5 273.0L222.0 272.3L219.0 272.1L217.6 271.0L216.8 268.0L216.0 267.0L217.0 267.0L218.0 266.0L218.0 261.0L219.0 261.0L220.0 260.0L220.0 255.0L221.0 255.0L222.0 254.0L222.0 251.0L223.0 251.0L224.0 250.0L224.0 247.0L225.0 247.0L226.0 246.0L226.0 243.0L227.0 243.0L228.0 242.0L228.0 239.0L229.0 239.0L230.0 238.0L230.0 235.0L231.0 235.0L232.0 234.0L232.0 233.0L233.0 233.0L234.0 232.0L234.0 229.0L235.0 229.0L236.0 228.0L236.0 227.0L237.0 227.0L238.0 226.0L238.0 223.0L239.0 223.0L240.0 222.0L240.0 221.0L241.0 221.0L242.0 220.0L242.0 217.0L243.0 217.0L244.0 216.0L244.0 215.0L245.0 215.0L246.0 214.0L246.0 209.0L247.0 209.0L248.0 208.0L248.0 205.0L249.0 205.0L250.0 204.0L250.0 201.0L251.0 201.0L252.0 200.0L252.0 197.0L253.0 197.0L254.0 196.0L254.0 195.0L256.0 193.0L256.0 191.0L257.0 191.0L258.0 190.0L258.0 189.0L259.0 189.0L260.0 188.0L260.0 185.0L262.0 185.0L264.0 183.0L265.0 182.9L265.9 182.0L266.0 181.0L267.0 180.9L267.9 180.0L268.0 179.0L269.0 178.9L269.9 178.0L270.0 177.0L271.0 176.9L271.9 176.0L272.0 175.0L273.0 174.9L273.9 174.0L274.0 173.0L275.0 172.9L275.9 172.0L276.0 168.9L277.0 168.9L277.9 168.0L277.9 167.0L276.6 165.0L277.3 161.0L281.2 154.0L288.0 147.4L300.0 140.0L314.0 134.4L326.0 131.9Z"/>
<path fill-rule="evenodd" fill="#23a983" d="M380.0 155.0L380.0 156.0L381.0 157.0L382.0 157.0L382.0 158.0L383.0 159.0L384.0 159.0L384.1 162.0L385.0 162.9L386.0 163.0L386.0 164.0L387.0 165.0L388.0 165.0L388.0 166.0L389.0 167.0L390.0 167.0L390.0 169.0L392.0 171.0L392.0 172.0L393.0 173.0L394.0 173.0L394.1 175.0L395.6 176.0L396.0 176.9L397.0 176.8L398.0 175.0L398.0 178.0L399.0 179.0L402.0 179.0L402.0 188.0L403.0 189.0L404.0 189.0L404.0 194.0L405.0 195.0L406.0 195.0L406.0 204.0L407.0 205.0L408.0 205.0L408.0 265.0L404.8 265.0L404.0 267.1L403.0 267.2L402.2 268.0L399.3 275.0L396.1 280.0L393.0 283.4L390.5 285.0L386.0 286.3L376.0 287.2L366.0 288.9L357.0 289.1L356.1 290.0L356.0 291.0L351.0 291.1L350.1 292.0L350.0 293.0L347.0 293.0L346.0 294.0L346.0 295.0L343.0 295.0L342.0 296.0L342.0 297.0L341.0 297.0L340.0 298.0L340.0 299.0L338.0 299.0L337.0 299.9L336.0 301.0L336.0 303.0L335.0 303.0L334.0 304.0L334.0 305.0L333.0 305.0L332.0 306.0L332.0 307.0L331.0 307.0L330.0 308.0L330.0 309.0L329.0 309.0L328.0 310.0L328.0 311.0L326.0 313.0L326.0 315.0L325.0 315.0L324.0 316.0L324.0 317.0L323.0 317.0L322.0 318.0L322.0 321.0L321.0 321.0L320.0 322.0L320.0 323.0L319.0 323.0L318.0 324.0L318.0 325.0L316.2 326.0L316.0 327.0L314.5 328.0L312.0 331.0L306.6 334.0L302.5 338.0L292.3 355.0L291.0 359.0L289.0 361.0L289.0 363.0L286.0 366.0L284.0 365.0L283.0 365.0L282.0 366.0L282.0 375.0L281.0 375.0L280.0 376.0L280.0 383.0L279.0 383.0L278.0 384.0L278.0 387.0L278.0 382.9L279.0 382.9L279.9 382.0L279.8 377.0L272.0 374.3L270.9 375.0L270.9 377.0L270.0 377.9L269.1 377.0L269.6 373.0L270.8 371.0L270.4 370.0L265.7 365.0L264.0 360.0L261.0 357.3L260.3 355.0L258.7 354.0L258.0 352.1L257.0 351.1L256.0 346.0L252.2 341.0L246.7 328.0L237.8 315.0L234.3 311.0L232.7 305.0L227.2 296.0L225.2 289.0L223.0 284.0L222.6 281.0L223.6 277.0L223.5 273.0L222.0 270.6L220.0 271.0L220.0 267.0L221.0 267.0L222.0 266.0L222.0 263.0L223.0 263.0L224.0 262.0L224.0 259.0L225.0 259.0L226.0 258.0L226.0 255.0L227.0 255.0L228.0 254.0L228.0 251.0L229.0 251.0L230.0 250.0L230.0 247.0L231.0 247.0L232.0 246.0L232.0 245.0L233.0 245.0L234.0 244.0L234.0 241.0L235.0 241.0L236.0 240.0L236.0 239.0L237.0 239.0L238.0 238.0L238.0 235.0L239.0 235.0L240.0 234.0L240.0 231.0L241.0 231.0L242.0 230.0L242.0 227.0L243.0 227.0L244.0 226.0L244.0 225.0L245.0 225.0L246.0 224.0L246.0 223.0L247.0 223.0L248.0 222.0L248.0 221.0L250.0 219.0L250.0 217.0L251.0 217.0L252.0 216.0L252.0 213.0L253.0 213.0L254.0 212.0L254.0 209.0L255.0 209.0L256.0 208.0L256.0 205.0L258.0 203.0L258.0 199.0L259.0 199.0L260.0 198.0L260.0 195.0L261.0 195.0L262.0 194.0L262.0 193.0L263.0 193.0L264.0 192.0L264.0 191.0L265.0 191.0L266.0 190.0L266.0 189.0L267.0 189.0L268.0 188.0L268.5 186.0L272.0 183.0L272.0 181.0L273.0 181.0L274.0 180.0L274.0 179.0L275.0 179.0L276.0 178.0L276.0 177.0L277.0 177.0L278.0 176.0L278.0 175.0L279.0 175.0L280.0 174.0L280.0 171.0L281.0 171.0L282.0 170.0L282.0 167.0L284.0 165.0L290.0 162.6L292.0 162.4L295.0 164.1L295.8 165.0L296.0 166.6L307.0 166.8L308.0 165.0L316.0 164.9L317.0 163.2L325.0 162.8L326.0 161.0L339.0 160.8L340.0 159.0L359.0 158.8L360.0 157.0L379.0 156.9L379.9 156.0L380.0 155.0ZM418.0 279.0L424.0 279.0L424.1 280.0L425.0 280.9L432.0 281.0L432.0 282.0L433.0 283.0L438.0 283.0L438.1 285.0L439.0 286.2L440.0 287.0L442.0 287.0L441.2 288.0L441.2 289.0L442.1 294.0L443.0 294.9L444.0 295.0L444.1 296.0L445.0 296.9L446.0 297.0L446.1 298.0L447.0 298.9L450.0 299.0L451.0 300.1L454.0 300.9L456.0 302.2L460.0 306.6L465.0 308.0L470.0 311.0L470.0 313.0L472.0 315.0L472.0 316.0L473.0 317.0L474.0 317.0L474.0 320.0L475.0 321.0L476.0 321.0L476.0 324.0L477.0 325.0L478.0 325.0L478.0 326.0L479.0 327.0L480.0 327.0L480.0 328.0L481.0 329.0L482.0 329.0L482.0 330.0L483.0 331.0L484.0 331.0L484.0 334.0L485.0 335.0L486.0 335.0L486.0 336.0L487.0 337.0L488.0 337.0L488.0 338.0L489.0 339.0L490.0 339.0L490.0 342.0L491.0 343.0L492.0 343.0L492.0 344.0L493.0 345.0L494.0 345.0L494.0 348.0L495.0 349.0L496.0 349.0L496.0 351.0L500.0 353.0L500.0 354.0L501.0 355.0L502.0 355.0L502.0 356.0L503.0 357.0L504.0 357.0L504.0 358.0L505.0 359.0L506.0 359.0L506.0 361.0L510.0 365.0L510.0 366.0L511.0 367.0L512.0 367.0L512.0 368.0L513.0 369.0L514.0 369.0L514.0 370.0L515.0 371.0L516.0 371.0L516.0 373.0L518.0 375.0L518.0 376.0L519.0 377.0L520.0 377.0L520.0 378.0L521.0 379.0L522.0 379.0L522.0 380.0L523.0 381.0L524.0 381.0L524.0 382.0L525.0 383.0L526.0 383.0L526.0 384.0L527.0 385.0L528.0 385.0L528.0 388.0L529.0 389.0L530.0 389.0L530.0 394.0L531.0 395.0L532.0 395.0L532.1 400.0L533.0 400.9L534.0 401.0L534.1 406.0L535.0 406.9L536.0 407.0L536.0 411.0L537.6 413.0L538.6 419.0L538.9 428.0L406.1 428.0L405.0 417.0L402.0 403.0L401.9 398.0L401.0 397.1L400.0 397.0L399.9 388.0L399.0 387.1L398.0 387.0L397.9 378.0L397.0 377.1L396.0 377.0L395.9 372.0L395.0 371.1L394.0 371.0L394.0 319.0L396.0 317.0L396.0 313.0L397.0 312.9L397.9 312.0L398.0 307.0L399.0 306.9L399.9 306.0L400.0 302.9L401.0 302.8L402.0 300.9L403.0 300.8L404.0 298.9L405.8 298.0L406.6 296.0L407.9 295.0L408.0 293.0L409.0 292.9L409.9 292.0L410.0 291.0L411.0 291.0L412.0 290.0L412.0 287.0L413.0 287.0L414.0 286.0L414.0 285.0L415.0 284.9L415.9 284.0L416.0 281.0L417.0 280.9L417.9 280.0L418.0 279.0ZM456.0 295.0L458.0 295.0L456.0 295.0ZM460.0 297.0L462.0 297.0L460.0 297.0ZM476.0 307.0L476.0 309.0L476.0 307.0Z"/>
<path fill-rule="evenodd" fill="#32b67a" d="M330.0 165.0L374.0 165.0L374.0 166.0L375.0 167.0L376.0 167.0L376.1 168.0L377.0 168.9L380.0 169.0L380.1 172.0L381.0 172.9L382.0 173.0L382.1 174.0L383.0 174.9L386.0 175.0L386.0 178.0L387.0 179.0L388.0 179.0L388.0 180.0L389.0 181.0L390.0 181.0L390.0 182.0L391.0 183.0L392.0 183.0L392.0 184.0L393.0 185.0L394.0 185.0L394.0 187.0L396.0 189.0L396.0 192.0L397.0 193.0L398.0 193.0L398.0 198.0L399.0 199.0L400.0 199.0L400.0 204.0L401.0 205.0L402.0 205.0L402.0 218.0L403.0 219.0L404.0 219.0L402.0 219.0L400.0 221.0L400.0 243.0L399.0 243.1L398.1 244.0L398.0 245.0L397.0 245.1L396.1 246.0L396.0 247.0L395.0 247.1L394.1 248.0L394.0 251.0L393.0 251.1L392.1 252.0L392.0 253.1L391.0 253.1L390.1 254.0L390.0 257.0L389.0 257.1L388.1 258.0L388.0 259.1L387.0 259.1L386.1 260.0L386.0 263.0L385.0 263.1L384.1 264.0L384.0 265.0L379.0 270.1L375.0 273.0L369.5 276.0L354.0 281.9L348.0 285.0L347.0 285.0L346.0 286.0L346.0 287.0L343.0 287.0L342.0 288.0L342.0 289.0L341.0 289.0L340.0 290.0L340.0 291.0L337.0 291.0L336.0 292.0L336.0 293.0L335.0 293.0L334.0 294.0L334.0 295.0L333.0 295.0L332.0 296.0L332.0 297.0L331.0 297.0L330.0 298.0L330.0 299.0L329.0 299.0L328.0 300.0L328.0 301.0L327.0 301.0L326.0 302.0L326.0 303.0L325.0 303.0L324.0 304.0L324.0 305.0L323.0 305.0L322.0 306.0L322.0 307.0L321.0 307.0L320.0 308.0L320.0 309.0L319.0 309.0L318.0 310.0L318.0 311.0L317.0 311.0L316.0 312.0L316.0 313.0L315.0 313.0L314.0 314.0L314.0 315.0L313.0 315.0L312.0 316.0L312.0 317.0L308.0 321.0L308.0 323.1L307.0 323.1L306.1 324.0L306.1 326.0L307.0 326.9L308.0 327.0L307.0 327.0L306.0 328.0L306.0 329.0L305.0 329.0L304.0 330.0L304.0 331.0L303.0 331.0L302.0 332.0L302.0 333.0L301.0 333.0L300.0 334.0L300.0 335.0L299.0 335.0L298.0 336.0L298.0 339.0L297.0 339.0L296.0 340.0L296.0 343.0L295.0 343.0L294.0 344.0L294.0 349.0L293.0 349.0L292.0 350.0L292.0 353.0L291.0 353.0L290.0 354.0L290.0 359.0L289.0 359.0L288.0 360.0L288.0 363.0L287.0 363.0L286.0 364.0L286.0 365.0L286.0 361.0L287.0 361.0L288.0 360.0L288.0 357.0L289.0 357.0L290.0 356.0L290.0 351.0L291.0 351.0L292.0 350.0L292.0 347.0L293.0 347.0L294.0 346.0L294.0 343.0L295.0 343.0L296.0 342.0L295.9 337.0L294.0 336.7L291.6 339.0L284.1 355.0L280.6 366.0L280.0 366.8L278.0 367.2L273.0 367.1L272.1 368.0L272.0 373.0L272.0 367.0L270.0 366.5L266.0 363.5L264.0 358.8L261.7 357.0L260.7 355.0L259.0 353.6L256.4 346.0L252.9 340.0L247.6 326.0L242.6 319.0L235.2 311.0L233.6 303.0L228.6 294.0L227.1 288.0L224.6 283.0L224.8 275.0L224.0 271.0L224.0 267.0L226.0 267.0L226.3 265.0L228.0 263.0L228.0 261.0L230.0 259.0L230.0 257.0L232.0 255.0L232.0 253.0L233.0 253.0L234.0 252.0L234.0 249.0L235.0 249.0L236.0 248.0L236.0 247.0L237.0 247.0L238.0 246.0L238.0 243.0L239.0 243.0L240.0 242.0L240.0 239.0L241.0 239.0L242.0 238.0L242.0 237.0L243.0 237.0L244.0 236.0L244.0 233.0L245.0 233.0L246.0 232.0L246.0 229.0L247.0 229.0L248.0 228.0L248.0 225.0L250.0 225.0L252.0 223.0L253.0 223.0L254.0 222.0L254.0 219.0L255.0 219.0L256.0 218.0L256.0 215.0L257.0 215.0L258.0 214.0L258.0 211.0L259.0 211.0L260.0 210.0L260.0 205.0L261.0 205.0L262.0 204.0L262.0 201.0L263.0 201.0L264.0 200.0L264.0 199.0L265.0 199.0L266.0 198.0L266.6 196.0L270.0 193.0L269.0 192.5L268.5 191.0L270.0 187.3L277.0 181.9L280.0 181.0L284.0 177.0L285.0 177.0L286.0 176.0L286.7 174.0L288.0 173.0L288.0 171.0L292.0 171.0L294.0 170.4L296.0 171.0L299.0 171.0L300.0 170.0L300.0 169.0L313.0 169.0L314.0 168.0L314.0 167.0L329.0 167.0L330.0 166.0L330.0 165.0ZM426.0 291.0L426.1 292.0L427.0 292.9L436.0 293.0L436.0 294.0L437.0 295.0L440.0 295.0L440.0 296.0L441.0 297.0L442.0 297.0L442.0 298.0L443.0 299.0L444.0 299.0L445.0 300.8L448.0 301.0L449.0 302.8L450.0 303.0L448.8 305.0L452.0 308.0L455.8 307.0L456.0 305.0L456.0 306.0L457.0 307.0L458.0 307.0L458.0 308.0L459.0 309.0L460.0 309.0L460.0 310.0L461.0 311.0L462.0 311.0L462.0 312.0L463.0 313.0L464.0 313.0L464.0 315.0L467.5 319.0L470.0 321.0L470.0 322.0L471.0 323.0L472.0 323.0L472.0 324.0L473.0 325.0L474.0 325.0L474.0 326.0L475.0 327.0L476.0 327.0L476.0 330.0L477.0 331.0L478.0 331.0L478.0 332.0L479.0 333.0L480.0 333.0L480.0 336.0L481.0 337.0L482.0 337.0L482.0 338.0L483.0 339.0L484.0 339.0L484.0 342.0L485.0 343.0L486.0 343.0L486.0 345.0L488.0 347.0L488.0 351.0L491.0 354.7L498.8 363.0L500.0 365.0L502.0 365.0L502.0 366.0L503.0 367.0L504.0 367.0L504.0 368.0L505.0 369.0L506.0 369.0L506.0 370.0L507.0 371.0L508.0 371.0L508.0 372.0L509.0 373.0L510.0 373.0L510.0 374.0L511.0 375.0L512.0 375.0L512.0 376.0L513.0 377.0L514.0 377.0L514.0 378.0L515.0 379.0L516.0 379.0L516.0 380.0L517.0 381.0L518.0 381.0L518.0 384.0L519.0 385.0L520.0 385.0L520.0 386.0L521.0 387.0L522.0 387.0L522.0 390.0L523.0 391.0L524.0 391.0L524.0 393.0L526.0 395.0L526.0 396.0L527.0 397.0L528.0 397.0L528.0 400.0L529.0 401.0L530.0 401.0L530.0 404.0L531.0 405.0L532.0 405.0L532.0 408.0L533.0 409.0L534.0 409.0L534.0 411.0L533.0 412.0L532.0 415.0L529.7 428.0L441.4 428.0L442.0 415.0L443.9 405.0L443.0 402.2L439.0 400.8L438.0 399.3L434.0 399.1L433.0 397.3L430.0 397.1L429.0 395.2L426.0 395.1L424.0 393.1L420.0 393.0L419.9 392.0L419.0 391.1L416.0 391.0L415.9 390.0L415.0 389.1L412.0 389.0L412.0 388.0L411.0 387.0L410.0 387.0L409.8 378.0L409.1 376.0L408.0 375.5L407.0 375.9L406.0 379.0L405.9 346.0L405.0 345.1L404.0 345.0L404.0 335.0L405.0 334.9L405.9 334.0L406.0 331.0L407.0 330.9L407.9 330.0L408.0 327.0L410.0 325.0L410.0 321.0L411.0 320.9L411.9 320.0L412.0 317.0L413.0 316.9L413.9 316.0L414.0 313.0L415.0 312.9L415.9 312.0L416.0 309.0L417.0 308.9L417.9 308.0L418.0 305.0L419.0 304.9L419.9 304.0L420.0 299.0L422.0 298.9L423.3 298.0L423.9 297.0L424.0 295.0L425.6 294.0L426.0 291.0Z"/>
<path fill-rule="evenodd" fill="#48c16e" d="M338.0 169.0L342.0 169.0L342.0 170.0L343.0 171.0L358.0 171.0L358.0 172.0L359.0 173.0L366.0 173.0L366.1 174.0L367.0 174.9L370.0 175.0L370.1 176.0L371.0 176.9L374.0 177.0L374.0 178.0L375.0 179.0L378.0 179.0L378.0 180.0L379.0 181.0L380.0 181.0L378.1 182.0L378.1 184.0L379.0 184.9L380.0 184.9L380.1 186.0L381.0 186.9L382.0 187.0L384.0 189.0L386.0 189.0L386.0 192.0L387.0 193.0L388.0 193.0L388.0 197.0L390.0 199.0L390.0 201.0L392.0 203.0L392.0 207.0L394.0 209.0L394.0 214.0L395.0 215.0L396.0 215.0L395.0 215.0L394.0 216.0L394.0 233.0L393.0 233.0L392.0 234.0L392.0 237.0L391.0 237.0L390.0 238.0L390.0 239.0L389.0 239.1L388.1 240.0L388.0 243.0L387.0 243.0L386.0 244.0L386.0 245.0L380.0 251.0L376.0 256.7L371.0 261.9L362.4 268.0L342.0 278.2L336.0 281.8L332.0 285.0L331.0 285.0L330.0 286.0L330.0 287.0L329.0 287.0L328.0 288.0L328.0 289.0L327.0 289.0L326.0 290.0L326.0 291.0L322.0 295.0L322.0 297.0L321.0 297.0L320.0 298.0L320.0 299.0L319.0 299.0L318.0 300.0L318.0 301.0L317.0 301.0L316.0 302.0L316.0 303.0L315.0 303.0L314.0 304.0L314.0 305.0L313.0 305.0L312.0 306.0L312.0 307.0L311.0 307.0L310.0 308.0L310.0 309.0L309.0 309.0L308.0 310.0L308.0 311.0L307.0 311.0L306.0 312.0L306.0 313.0L305.0 313.0L304.0 314.0L304.0 315.0L303.0 315.0L302.0 316.0L302.0 317.0L301.0 317.0L300.0 318.0L300.0 321.0L299.0 321.0L298.0 322.0L298.0 323.0L297.0 323.0L296.0 324.0L296.0 327.0L295.0 327.0L294.0 328.0L294.0 331.0L293.0 331.0L292.0 332.0L292.0 333.0L291.0 333.0L290.0 334.0L290.0 337.0L289.0 337.0L288.0 338.0L288.0 341.0L287.0 341.0L286.0 342.0L286.0 347.0L285.0 347.0L284.0 348.0L284.0 351.0L283.0 351.0L282.0 352.0L282.0 359.0L281.0 359.0L280.0 360.0L280.0 365.0L280.0 359.0L281.0 359.0L282.0 358.0L282.0 355.0L282.0 354.0L281.0 353.0L280.0 353.0L280.0 351.0L281.0 351.0L282.0 350.0L282.0 347.0L283.0 347.0L284.0 346.0L284.0 343.0L285.0 343.0L286.0 342.0L286.0 340.5L287.0 340.1L287.5 339.0L283.0 338.1L282.0 338.0L281.0 339.0L281.0 343.0L279.0 345.0L278.8 349.0L277.3 351.0L277.0 353.0L275.8 355.0L275.8 357.0L273.3 365.0L272.0 366.0L269.0 363.3L266.0 362.5L264.5 358.0L262.0 356.6L259.0 353.0L256.1 344.0L253.5 339.0L250.8 329.0L248.7 324.0L245.0 319.0L236.0 311.0L236.0 303.0L234.5 302.0L234.0 299.0L232.5 297.0L232.0 295.0L229.9 293.0L229.6 291.0L230.0 286.0L229.0 285.0L227.0 284.3L226.1 283.0L226.0 269.0L227.0 269.0L228.0 268.0L228.0 265.0L229.0 265.0L230.0 264.0L230.0 261.0L230.0 266.0L232.1 266.0L232.7 265.0L233.2 261.0L235.0 259.0L235.6 257.0L238.0 253.0L238.0 251.0L239.0 250.7L240.0 249.0L241.0 248.9L241.9 248.0L242.0 245.0L243.6 244.0L244.0 243.0L245.0 242.9L246.0 239.0L247.0 239.0L248.0 238.0L248.0 235.0L249.6 234.0L254.6 225.0L256.0 223.6L258.0 223.0L258.0 221.0L259.0 221.0L260.0 220.0L260.0 217.0L261.0 217.0L262.0 216.0L262.0 213.0L263.0 213.0L264.0 212.0L264.0 207.0L265.0 207.0L266.0 206.0L266.0 203.0L267.0 203.0L268.0 202.0L268.4 197.0L275.3 191.0L280.0 185.8L282.0 184.5L285.0 184.8L285.8 184.0L285.9 183.0L287.0 182.9L287.9 182.0L288.0 181.0L289.0 181.0L290.0 180.0L290.0 175.0L293.0 175.0L294.0 174.0L294.0 173.0L294.0 174.0L295.0 175.0L304.0 175.0L306.0 173.0L320.0 173.0L322.0 171.0L337.0 171.0L338.0 170.0L338.0 169.0ZM270.0 189.0L272.0 189.0L271.0 189.0L270.0 190.0L270.0 191.0L270.0 189.0ZM436.0 307.0L438.0 307.0L438.1 308.0L439.0 308.9L442.0 309.0L442.0 310.0L443.0 311.0L446.0 311.0L446.0 312.0L447.0 313.0L450.0 313.0L450.0 314.0L451.0 315.0L452.0 315.0L453.0 316.4L454.0 317.0L456.0 317.0L456.0 318.0L457.0 319.0L458.0 319.0L458.0 320.0L459.0 321.0L460.0 321.0L462.0 323.0L464.0 323.0L464.0 324.0L465.0 325.0L466.0 325.0L466.0 326.0L467.0 327.0L468.0 327.0L468.0 328.0L469.0 329.0L470.0 329.0L470.0 330.0L471.0 331.0L472.0 331.0L472.0 334.0L473.0 335.0L474.0 335.0L474.0 338.0L475.0 339.0L476.0 339.0L476.0 344.0L477.0 345.0L478.0 345.0L478.0 348.0L479.0 349.0L480.0 349.0L480.0 353.0L482.0 355.0L482.1 358.0L483.0 358.9L484.0 359.0L484.1 360.0L485.0 360.9L486.0 361.0L487.0 362.7L490.0 363.0L490.0 364.0L491.0 365.0L492.0 365.0L492.0 366.0L493.0 367.0L494.0 367.0L494.0 368.0L495.0 369.0L498.0 369.0L498.0 370.0L499.0 371.0L500.0 371.0L500.0 372.0L501.0 373.0L502.0 373.0L502.0 374.0L503.0 375.0L506.0 375.0L506.0 376.0L507.0 377.0L508.0 377.0L508.0 378.0L509.0 379.0L512.0 379.0L507.0 379.4L506.2 381.0L507.7 382.0L508.0 383.0L512.0 387.0L514.0 387.0L514.0 388.0L515.0 389.0L516.0 389.0L516.0 391.0L518.0 393.0L518.0 394.0L519.0 395.0L520.0 395.0L520.0 398.0L521.0 399.0L522.0 399.0L522.0 401.0L524.0 403.0L524.0 404.0L525.0 405.0L526.0 405.0L526.0 408.0L527.0 409.0L528.0 409.0L528.0 411.0L526.7 412.0L519.4 423.0L517.2 428.0L477.3 428.0L475.9 413.0L475.8 406.0L473.9 405.0L473.8 396.0L471.9 395.0L471.6 388.0L470.0 387.2L469.7 386.0L467.8 385.0L467.0 383.3L464.0 383.1L463.0 381.3L460.0 381.1L458.0 379.1L430.0 379.0L429.9 378.0L429.0 377.1L428.0 377.1L425.0 377.1L424.1 378.0L424.0 379.0L424.0 378.0L423.0 377.0L422.0 377.0L422.0 339.0L422.5 342.0L424.0 344.4L426.0 343.9L427.0 342.8L427.9 337.0L429.8 336.0L430.0 329.0L431.0 328.9L431.9 328.0L432.0 321.0L433.0 320.9L433.9 320.0L434.0 315.0L435.0 314.9L435.9 314.0L436.0 307.0Z"/>
<path fill-rule="evenodd" fill="#65cb5e" d="M340.0 177.0L344.0 177.0L344.0 178.0L345.0 179.0L356.0 179.0L356.0 180.0L357.0 181.0L362.0 181.0L362.0 182.0L363.0 183.0L364.0 183.0L364.1 184.0L365.0 184.9L368.0 185.0L368.0 186.0L369.0 187.0L370.0 187.0L370.0 188.0L371.0 189.0L374.0 189.0L374.0 190.0L375.0 191.0L376.0 191.0L376.0 194.0L377.0 195.0L378.0 195.0L378.0 196.0L379.0 197.0L380.0 197.0L380.0 200.0L381.0 201.0L382.0 201.0L382.1 206.0L383.0 206.9L384.0 207.0L384.2 215.0L386.0 215.7L388.0 215.0L388.0 223.0L387.0 223.0L386.0 224.0L386.0 225.0L384.0 227.0L384.0 229.0L383.0 229.1L382.1 230.0L382.0 233.0L381.0 233.1L380.1 234.0L380.0 235.0L373.0 245.8L366.0 254.5L358.0 260.2L337.0 270.7L328.0 276.6L324.0 280.3L314.1 291.0L314.1 292.0L315.0 292.9L316.0 293.0L315.0 293.0L314.0 294.0L314.0 295.0L313.0 295.0L312.0 296.0L312.0 297.0L311.0 297.0L310.0 298.0L310.0 299.0L309.0 299.0L308.0 300.0L308.0 301.0L307.0 301.0L306.0 302.0L306.0 303.0L305.0 303.0L304.0 304.0L304.0 305.0L303.0 305.0L302.0 306.0L302.0 307.0L301.0 307.0L300.0 308.0L300.0 311.0L299.7 308.0L299.0 307.3L297.0 307.3L296.1 309.0L295.0 309.1L294.1 310.0L294.0 311.0L293.0 311.1L292.1 312.0L292.0 313.0L291.0 313.1L290.1 314.0L290.0 315.0L289.0 315.1L288.1 316.0L288.0 319.0L287.0 319.1L286.1 320.0L286.0 323.0L285.0 323.1L284.1 324.0L284.0 331.0L283.0 331.0L282.0 332.0L282.0 337.0L281.0 337.0L280.0 338.0L280.0 343.0L278.2 344.0L278.0 347.0L276.9 348.0L276.1 350.0L276.0 353.0L275.0 353.3L273.4 355.0L274.0 359.0L266.0 361.7L265.3 357.0L264.0 356.2L262.0 356.1L261.0 354.3L259.3 353.0L256.4 343.0L254.4 339.0L252.1 327.0L250.2 322.0L247.0 318.2L240.0 313.5L237.4 311.0L236.5 303.0L234.9 301.0L234.1 297.0L233.0 296.2L231.1 293.0L230.5 285.0L230.0 283.9L228.0 283.8L227.3 283.0L227.6 281.0L226.8 278.0L227.0 275.8L228.4 274.0L230.4 269.0L233.0 266.2L235.1 261.0L236.0 260.0L238.0 259.0L238.0 257.0L238.0 259.0L239.0 259.9L240.0 260.0L241.0 259.0L240.8 257.0L241.4 255.0L243.2 253.0L246.0 247.0L249.0 242.3L252.0 239.0L252.0 237.0L253.8 235.0L254.0 233.0L256.1 231.0L259.0 226.3L259.8 224.0L262.0 223.0L262.0 221.0L263.0 221.0L264.0 220.0L264.0 217.0L265.0 217.0L266.0 216.0L266.0 215.0L267.0 215.0L268.0 214.0L268.0 213.0L269.0 213.0L270.0 212.0L270.0 209.0L268.6 208.0L268.4 205.0L277.0 198.0L280.0 197.0L283.0 193.6L285.0 193.0L286.0 192.0L286.3 190.0L288.0 189.0L287.9 188.0L287.0 187.1L286.0 187.0L287.0 187.0L288.0 186.0L288.0 185.0L291.0 185.0L292.0 184.0L292.0 181.0L293.0 181.0L294.0 180.0L294.0 179.0L294.1 182.0L295.0 182.9L302.0 183.0L304.0 181.0L313.0 181.0L314.0 180.0L314.0 179.0L316.0 179.4L340.0 177.0ZM237.3 262.0L237.0 263.0L238.0 264.7L239.0 263.0L238.0 261.4L237.3 262.0ZM450.0 327.0L450.0 328.0L451.0 329.0L452.0 329.0L452.1 330.0L453.0 330.9L454.0 331.0L454.1 332.0L455.0 332.9L456.0 333.0L456.0 335.0L457.4 336.0L458.1 338.0L459.0 338.9L460.0 339.0L460.1 342.0L461.0 342.9L462.0 343.0L462.1 344.0L463.0 344.9L464.0 345.0L464.1 348.0L465.0 348.9L466.0 349.0L466.0 350.0L467.0 351.0L468.0 351.0L462.0 351.0L461.9 350.0L461.0 349.1L456.0 349.0L455.0 347.2L448.0 347.0L447.9 346.0L447.0 345.1L446.0 345.0L446.0 342.9L447.0 342.9L447.9 342.0L448.0 333.0L449.0 332.9L449.9 332.0L450.0 327.0ZM494.0 387.0L496.0 387.0L496.1 388.0L497.0 388.9L500.0 389.0L500.1 390.0L501.0 390.9L502.0 391.0L502.1 392.0L503.0 392.9L506.0 393.0L506.0 394.0L507.0 395.0L508.0 395.0L508.0 396.0L509.0 397.0L510.0 397.0L510.0 398.0L511.0 399.0L512.0 399.0L512.0 400.0L513.0 401.0L514.0 401.0L514.0 402.0L515.0 403.0L516.0 403.0L516.0 404.0L517.0 405.0L518.0 405.0L518.0 406.0L519.0 407.0L520.0 407.0L520.0 408.0L521.0 409.0L522.0 409.0L522.0 411.0L500.0 411.0L499.9 407.0L498.0 405.0L497.9 398.0L497.0 397.1L496.0 397.0L495.9 388.0L495.0 387.1L494.0 387.0Z"/>
<path fill-rule="evenodd" fill="#84d44b" d="M334.0 183.0L334.0 184.0L335.0 185.0L344.0 185.0L344.1 186.0L345.0 186.9L356.0 187.0L356.0 188.0L357.0 189.0L358.0 189.0L358.0 190.0L359.0 191.0L362.0 191.0L362.0 192.0L363.0 193.0L364.0 193.0L364.0 194.0L365.0 195.0L366.0 195.0L366.0 196.0L367.0 197.0L370.0 197.0L370.0 213.0L372.0 215.0L371.1 218.0L369.9 231.0L370.0 235.0L369.0 235.0L368.0 236.0L368.0 237.0L366.0 239.0L366.0 241.0L365.0 241.1L364.1 242.0L364.0 245.0L363.0 245.0L362.0 246.0L362.0 249.0L361.0 249.0L360.0 250.0L360.0 251.0L358.0 251.1L347.0 256.3L333.0 261.3L325.0 265.7L318.1 272.0L316.1 275.0L316.0 277.0L315.0 277.0L314.0 278.0L314.0 279.0L313.0 279.0L312.0 280.0L312.0 281.0L310.0 281.0L308.0 283.0L307.0 283.0L306.0 284.0L306.0 285.0L305.0 285.0L304.0 286.0L304.0 287.0L303.0 287.0L302.0 288.0L302.0 289.0L299.0 289.1L298.1 290.0L298.0 291.0L297.0 291.0L296.0 292.0L296.0 295.0L293.0 295.0L292.0 296.0L292.0 297.0L291.0 297.0L290.0 298.0L290.0 299.0L289.0 299.0L288.0 300.0L288.0 301.0L287.0 301.0L286.0 302.0L286.0 303.0L285.0 303.0L284.0 304.0L284.0 305.0L283.0 305.1L282.1 306.0L282.0 313.0L281.0 313.0L280.0 314.0L280.0 321.0L279.0 321.0L278.0 322.0L278.0 329.0L277.0 329.0L276.0 330.0L276.0 335.0L274.5 336.0L274.0 337.0L274.0 341.0L272.0 343.0L272.0 347.0L270.0 349.0L270.0 353.0L268.4 354.0L268.0 355.0L268.0 359.0L268.0 355.0L267.0 354.2L266.0 354.0L262.0 355.5L261.3 354.0L259.7 353.0L259.2 349.0L257.7 347.0L257.0 342.0L255.2 339.0L253.7 325.0L252.0 319.6L249.4 317.0L240.0 312.6L238.4 311.0L237.0 303.0L235.2 300.0L234.6 297.0L233.0 295.0L232.2 291.0L231.0 289.0L230.8 284.0L229.7 281.0L228.0 279.5L227.3 277.0L228.0 275.8L229.7 275.0L230.0 272.3L231.0 274.8L233.9 275.0L233.9 272.0L231.5 271.0L232.0 269.8L234.0 269.0L234.0 266.5L235.7 266.0L236.0 265.0L236.1 266.0L237.0 266.9L238.0 267.0L242.4 264.0L243.0 263.0L243.0 260.0L244.5 259.0L245.0 256.5L247.0 255.0L247.0 252.3L248.7 251.0L255.0 238.1L258.0 234.5L261.1 228.0L263.5 226.0L266.0 223.0L266.0 221.0L267.0 221.0L268.0 220.0L268.0 217.0L269.0 217.0L269.3 215.0L270.6 214.0L274.0 209.0L275.0 209.0L276.0 208.0L276.0 207.0L276.9 206.0L278.0 205.0L279.0 205.0L280.0 204.0L280.0 203.0L281.0 203.0L282.0 202.0L282.0 201.0L283.0 201.0L284.0 200.0L284.0 197.0L285.0 197.0L286.0 196.0L286.0 195.0L287.0 195.0L288.0 194.0L288.0 193.0L291.0 193.0L292.0 192.0L292.0 191.0L293.0 191.0L294.0 190.0L294.0 187.0L294.1 190.0L295.0 190.9L301.0 190.9L301.9 190.0L302.0 189.0L309.0 189.0L310.0 188.0L310.0 187.0L317.0 187.0L318.0 186.0L318.0 185.0L333.0 185.0L334.0 184.0L334.0 183.0ZM270.0 205.0L272.0 205.0L271.0 205.0L270.0 206.0L270.0 207.0L270.0 205.0ZM242.0 257.0L242.0 259.0L242.0 257.0ZM240.0 261.0L240.0 263.0L240.0 261.0Z"/>
<path fill-rule="evenodd" fill="#a8db34" d="M328.0 193.0L334.0 193.0L334.1 194.0L335.0 194.9L350.0 195.0L350.0 196.0L351.0 197.0L352.0 197.0L352.0 198.0L353.0 199.0L354.0 199.0L354.1 200.0L355.0 200.9L358.0 201.0L358.0 225.0L360.0 227.0L360.0 233.0L358.5 234.0L358.0 237.0L356.0 239.0L356.0 243.0L353.0 243.0L352.0 244.0L352.0 245.0L351.0 245.0L350.0 246.0L350.0 247.0L347.0 247.0L346.0 248.0L346.0 249.0L341.0 249.0L340.0 250.0L340.0 251.0L339.9 249.0L338.0 248.3L334.0 248.0L328.0 248.8L322.0 250.7L314.8 255.0L312.9 257.0L312.0 259.0L308.0 263.0L307.0 263.1L306.1 264.0L306.0 265.0L305.0 265.1L304.1 266.0L304.0 267.0L303.0 267.1L302.1 268.0L302.0 269.0L301.0 269.1L300.1 270.0L300.0 271.0L299.0 271.1L298.1 272.0L298.0 273.0L290.0 273.0L288.0 275.0L281.0 275.1L280.1 276.0L280.0 277.0L273.0 277.3L272.3 278.0L272.1 281.0L270.2 282.0L270.0 287.0L269.0 287.1L268.1 288.0L268.0 293.0L267.0 293.1L266.1 294.0L266.0 297.1L265.0 297.1L264.1 298.0L264.0 303.0L263.0 303.1L262.1 304.0L262.0 309.0L261.0 309.1L260.1 310.0L260.0 315.0L259.0 315.1L258.1 316.0L258.0 319.0L256.2 320.0L256.0 339.0L256.0 319.0L257.0 318.9L257.9 318.0L257.9 315.0L256.0 314.1L252.0 314.4L248.0 313.9L240.0 311.8L239.2 311.0L238.7 307.0L237.5 305.0L237.2 302.0L235.4 299.0L235.0 296.6L233.5 295.0L233.3 291.0L231.5 289.0L231.6 284.0L232.3 279.0L237.3 274.0L240.0 269.0L242.0 267.0L243.7 264.0L244.0 261.0L245.0 260.9L245.9 260.0L246.0 257.0L246.1 260.0L247.0 260.9L248.0 261.0L249.1 259.0L251.0 257.6L252.0 255.0L253.6 253.0L255.3 248.0L258.0 245.0L258.0 243.0L260.0 241.0L260.0 239.0L261.0 239.0L262.0 238.0L262.0 235.0L263.0 235.0L264.0 234.0L264.0 231.0L266.0 230.9L266.0 227.0L268.0 227.0L268.2 226.0L270.0 225.0L269.9 224.0L269.0 223.1L268.0 223.0L269.0 223.0L270.0 222.0L270.0 221.0L271.0 221.0L272.0 220.0L272.0 217.0L273.0 217.0L274.0 216.0L274.0 215.0L277.0 213.9L278.0 213.0L277.9 212.0L277.0 211.1L276.0 211.0L277.0 211.0L278.0 210.0L278.0 209.0L279.0 209.0L280.0 208.0L280.0 207.0L283.0 207.0L284.0 206.0L284.0 205.0L287.0 205.0L288.0 204.0L288.0 203.0L302.0 203.0L304.0 201.0L309.0 200.9L309.9 200.0L310.0 199.0L316.0 199.0L318.0 197.0L321.0 196.9L321.9 196.0L322.0 195.0L327.0 194.9L327.9 194.0L328.0 193.0ZM248.0 253.0L248.0 255.0L248.0 253.0ZM258.0 340.9L258.1 346.0L259.0 346.9L260.0 347.0L260.0 352.0L261.0 353.0L262.0 353.0L262.0 355.0L262.0 354.0L261.0 353.0L260.0 353.0L260.0 348.0L259.0 347.0L258.0 347.0L258.0 340.9Z"/>
<path fill-rule="evenodd" fill="#cae11f" d="M336.0 203.0L336.1 204.0L337.0 204.9L344.0 205.0L344.0 206.0L345.0 207.0L346.0 207.0L346.0 208.0L347.0 209.0L348.0 209.0L347.0 209.1L346.1 210.0L346.0 229.0L333.0 229.1L332.1 230.0L332.0 231.0L322.0 231.0L321.0 229.4L317.9 229.0L317.8 228.0L317.0 227.2L313.9 227.0L313.0 225.3L309.7 225.0L309.4 224.0L308.0 223.3L305.0 223.7L304.3 225.0L302.4 226.0L302.2 227.0L300.3 228.0L300.1 229.0L298.2 230.0L298.1 231.0L296.2 232.0L296.1 233.0L294.2 234.0L294.1 235.0L292.0 237.1L290.2 238.0L290.1 241.0L288.2 242.0L288.1 245.0L287.0 245.1L286.1 246.0L286.0 247.1L285.0 247.1L284.1 248.0L284.0 251.0L280.0 251.1L278.0 253.1L277.0 253.1L276.1 254.0L276.0 255.0L273.0 255.4L272.1 257.0L271.0 257.1L270.1 258.0L270.1 259.0L269.0 259.1L268.1 260.0L268.0 261.1L267.0 261.1L266.1 262.0L266.0 263.1L265.0 263.2L264.2 264.0L264.0 271.0L262.0 273.0L262.0 277.0L261.0 277.1L260.1 278.0L260.0 281.0L259.0 281.1L258.1 282.0L258.0 285.0L257.0 285.1L256.1 286.0L256.0 289.0L254.0 291.0L254.0 295.0L253.0 295.1L252.1 296.0L252.0 299.0L250.0 301.0L250.0 303.0L251.8 307.0L251.4 311.0L250.0 312.0L246.0 311.8L242.0 310.7L240.0 311.0L240.0 307.0L238.0 305.0L237.6 301.0L235.8 299.0L235.4 296.0L234.0 295.0L234.0 293.0L234.9 291.0L234.0 289.3L232.0 289.0L232.0 285.0L233.7 284.0L234.0 281.0L235.0 281.0L236.0 280.0L236.0 277.0L238.0 277.0L242.0 274.3L243.8 274.0L243.9 272.0L243.0 271.1L242.0 271.0L245.0 270.8L245.8 270.0L245.9 269.0L245.8 268.0L244.0 267.0L250.0 266.6L251.0 265.0L251.4 262.0L254.0 259.0L254.0 257.0L257.0 255.7L261.1 253.0L262.5 251.0L262.4 249.0L263.9 245.0L263.5 244.0L262.0 243.0L263.0 242.8L263.8 242.0L264.0 239.0L265.8 238.0L266.0 235.0L267.0 235.0L268.0 234.0L268.0 231.0L269.0 231.0L270.0 230.0L270.0 227.0L271.0 227.0L272.0 226.0L272.0 223.0L273.0 223.0L274.0 222.0L274.0 221.0L275.0 221.0L276.0 220.0L276.0 219.0L277.0 219.0L278.0 218.0L278.0 217.0L311.0 216.9L311.9 216.0L312.0 215.0L315.0 214.9L315.9 214.0L316.0 213.0L319.0 212.9L319.9 212.0L320.0 211.0L323.0 210.9L323.9 210.0L324.0 209.0L327.0 208.9L327.9 208.0L328.0 207.0L331.0 206.9L331.9 206.0L332.0 205.0L335.0 204.9L335.9 204.0L336.0 203.0ZM260.0 247.0L260.5 247.0L260.0 247.5L260.0 247.0ZM258.0 249.0L258.5 249.0L258.0 249.0Z"/>
<path fill-rule="evenodd" fill="#efe51c" d="M252.0 265.0L254.0 265.0L254.0 267.0L253.0 267.1L252.1 268.0L252.0 275.0L251.0 275.1L250.1 276.0L250.0 283.0L249.0 283.1L248.1 284.0L248.0 291.0L246.8 293.0L246.0 297.0L246.0 301.0L245.0 301.0L244.0 302.0L244.0 309.0L242.0 309.0L242.0 304.0L243.0 303.1L243.8 301.0L242.0 300.6L240.0 299.1L238.0 299.0L239.0 298.2L239.1 297.0L238.0 295.5L236.0 295.0L236.0 293.0L237.0 293.0L238.0 292.0L238.0 289.0L239.0 289.0L240.0 288.0L240.0 287.0L242.0 285.0L242.0 283.0L243.0 283.0L244.0 282.0L244.0 279.0L245.0 279.0L246.0 278.0L246.0 277.0L247.0 277.0L248.0 276.0L248.0 273.0L249.0 273.0L250.0 272.0L250.0 269.0L251.0 269.0L252.0 268.0L252.0 265.0ZM240.0 303.0L241.0 303.0L240.0 303.0Z"/></g>
<rect x="120.50" y="35.50" width="801.10" height="390.00" fill="none" stroke="#000" stroke-width="1.11"/>
<line x1="144.50" y1="425.50" x2="144.50" y2="430.36" stroke="#000" stroke-width="1.11"/>
<line x1="262.33" y1="425.50" x2="262.33" y2="430.36" stroke="#000" stroke-width="1.11"/>
<line x1="380.17" y1="425.50" x2="380.17" y2="430.36" stroke="#000" stroke-width="1.11"/>
<line x1="498.00" y1="425.50" x2="498.00" y2="430.36" stroke="#000" stroke-width="1.11"/>
<line x1="615.83" y1="425.50" x2="615.83" y2="430.36" stroke="#000" stroke-width="1.11"/>
<line x1="733.67" y1="425.50" x2="733.67" y2="430.36" stroke="#000" stroke-width="1.11"/>
<line x1="851.50" y1="425.50" x2="851.50" y2="430.36" stroke="#000" stroke-width="1.11"/>
<line x1="115.64" y1="388.40" x2="120.50" y2="388.40" stroke="#000" stroke-width="1.11"/>
<line x1="115.64" y1="305.88" x2="120.50" y2="305.88" stroke="#000" stroke-width="1.11"/>
<line x1="115.64" y1="223.35" x2="120.50" y2="223.35" stroke="#000" stroke-width="1.11"/>
<line x1="115.64" y1="140.82" x2="120.50" y2="140.82" stroke="#000" stroke-width="1.11"/>
<line x1="115.64" y1="58.30" x2="120.50" y2="58.30" stroke="#000" stroke-width="1.11"/>
<rect x="966.30" y="404.10" width="19.20" height="20.90" fill="#460a5d"/>
<rect x="966.30" y="383.60" width="19.20" height="20.90" fill="#481d6f"/>
<rect x="966.30" y="363.10" width="19.20" height="20.90" fill="#472e7c"/>
<rect x="966.30" y="342.60" width="19.20" height="20.90" fill="#423f85"/>
<rect x="966.30" y="322.10" width="19.20" height="20.90" fill="#3d4e8a"/>
<rect x="966.30" y="301.60" width="19.20" height="20.90" fill="#365d8d"/>
<rect x="966.30" y="281.10" width="19.20" height="20.90" fill="#306a8e"/>
<rect x="966.30" y="260.60" width="19.20" height="20.90" fill="#2a778e"/>
<rect x="966.30" y="240.10" width="19.20" height="20.90" fill="#25838e"/>
<rect x="966.30" y="219.60" width="19.20" height="20.90" fill="#21918c"/>
<rect x="966.30" y="199.10" width="19.20" height="20.90" fill="#1e9d89"/>
<rect x="966.30" y="178.60" width="19.20" height="20.90" fill="#23a983"/>
<rect x="966.30" y="158.10" width="19.20" height="20.90" fill="#32b67a"/>
<rect x="966.30" y="137.60" width="19.20" height="20.90" fill="#48c16e"/>
<rect x="966.30" y="117.10" width="19.20" height="20.90" fill="#65cb5e"/>
<rect x="966.30" y="96.60" width="19.20" height="20.90" fill="#84d44b"/>
<rect x="966.30" y="76.10" width="19.20" height="20.90" fill="#a8db34"/>
<rect x="966.30" y="55.60" width="19.20" height="20.90" fill="#cae11f"/>
<rect x="966.30" y="35.10" width="19.20" height="20.90" fill="#efe51c"/>
<rect x="966.30" y="35.30" width="19.20" height="389.50" fill="none" stroke="#000" stroke-width="1.11"/>
<line x1="985.50" y1="43.30" x2="990.36" y2="43.30" stroke="#000" stroke-width="1.11"/>
<line x1="985.50" y1="106.80" x2="990.36" y2="106.80" stroke="#000" stroke-width="1.11"/>
<line x1="985.50" y1="170.50" x2="990.36" y2="170.50" stroke="#000" stroke-width="1.11"/>
<line x1="985.50" y1="234.00" x2="990.36" y2="234.00" stroke="#000" stroke-width="1.11"/>
<line x1="985.50" y1="297.40" x2="990.36" y2="297.40" stroke="#000" stroke-width="1.11"/>
<line x1="985.50" y1="360.90" x2="990.36" y2="360.90" stroke="#000" stroke-width="1.11"/>
<line x1="985.50" y1="424.40" x2="990.36" y2="424.40" stroke="#000" stroke-width="1.11"/>
<g style="will-change:transform;opacity:0.999">
<text x="521.00" y="27.20" font-size="28.80" text-anchor="middle" textLength="298.0" lengthAdjust="spacingAndGlyphs">Apparent Conductivity</text>
<text x="144.50" y="452.60" font-size="24.00" text-anchor="middle" textLength="61.2" lengthAdjust="spacingAndGlyphs">−300</text>
<text x="262.33" y="452.60" font-size="24.00" text-anchor="middle" textLength="61.2" lengthAdjust="spacingAndGlyphs">−200</text>
<text x="380.17" y="452.60" font-size="24.00" text-anchor="middle" textLength="61.2" lengthAdjust="spacingAndGlyphs">−100</text>
<text x="498.00" y="452.60" font-size="24.00" text-anchor="middle" textLength="14.2" lengthAdjust="spacingAndGlyphs">0</text>
<text x="615.83" y="452.60" font-size="24.00" text-anchor="middle" textLength="42.6" lengthAdjust="spacingAndGlyphs">100</text>
<text x="733.67" y="452.60" font-size="24.00" text-anchor="middle" textLength="42.6" lengthAdjust="spacingAndGlyphs">200</text>
<text x="851.50" y="452.60" font-size="24.00" text-anchor="middle" textLength="42.6" lengthAdjust="spacingAndGlyphs">300</text>
<text x="110.80" y="396.50" font-size="24.00" text-anchor="end" textLength="61.2" lengthAdjust="spacingAndGlyphs">−250</text>
<text x="110.80" y="313.98" font-size="24.00" text-anchor="end" textLength="61.2" lengthAdjust="spacingAndGlyphs">−200</text>
<text x="110.80" y="231.45" font-size="24.00" text-anchor="end" textLength="61.2" lengthAdjust="spacingAndGlyphs">−150</text>
<text x="110.80" y="148.92" font-size="24.00" text-anchor="end" textLength="61.2" lengthAdjust="spacingAndGlyphs">−100</text>
<text x="110.80" y="66.40" font-size="24.00" text-anchor="end" textLength="47.1" lengthAdjust="spacingAndGlyphs">−50</text>
<text x="521.00" y="480.70" font-size="24.00" text-anchor="middle" textLength="187.9" lengthAdjust="spacingAndGlyphs">Line position (m)</text>
<text x="37.80" y="230.90" font-size="24.00" text-anchor="middle" textLength="237.6" lengthAdjust="spacingAndGlyphs" transform="rotate(-90 37.80 230.90)">Pseudo-elevation (m)</text>
<text x="995.20" y="51.40" font-size="24.00" text-anchor="start" textLength="99.5" lengthAdjust="spacingAndGlyphs">3.81e-02</text>
<text x="995.20" y="114.90" font-size="24.00" text-anchor="start" textLength="99.5" lengthAdjust="spacingAndGlyphs">2.67e-02</text>
<text x="995.20" y="178.60" font-size="24.00" text-anchor="start" textLength="99.5" lengthAdjust="spacingAndGlyphs">1.87e-02</text>
<text x="995.20" y="242.10" font-size="24.00" text-anchor="start" textLength="99.5" lengthAdjust="spacingAndGlyphs">1.31e-02</text>
<text x="995.20" y="305.50" font-size="24.00" text-anchor="start" textLength="99.5" lengthAdjust="spacingAndGlyphs">9.17e-03</text>
<text x="995.20" y="369.00" font-size="24.00" text-anchor="start" textLength="99.5" lengthAdjust="spacingAndGlyphs">6.42e-03</text>
<text x="995.20" y="432.50" font-size="24.00" text-anchor="start" textLength="99.5" lengthAdjust="spacingAndGlyphs">4.50e-03</text>
<text x="1127.20" y="233.00" font-size="24.00" text-anchor="middle" textLength="43.2" lengthAdjust="spacingAndGlyphs" transform="rotate(-90 1127.20 233.00)">S/m</text>
</g></svg></body></html>
